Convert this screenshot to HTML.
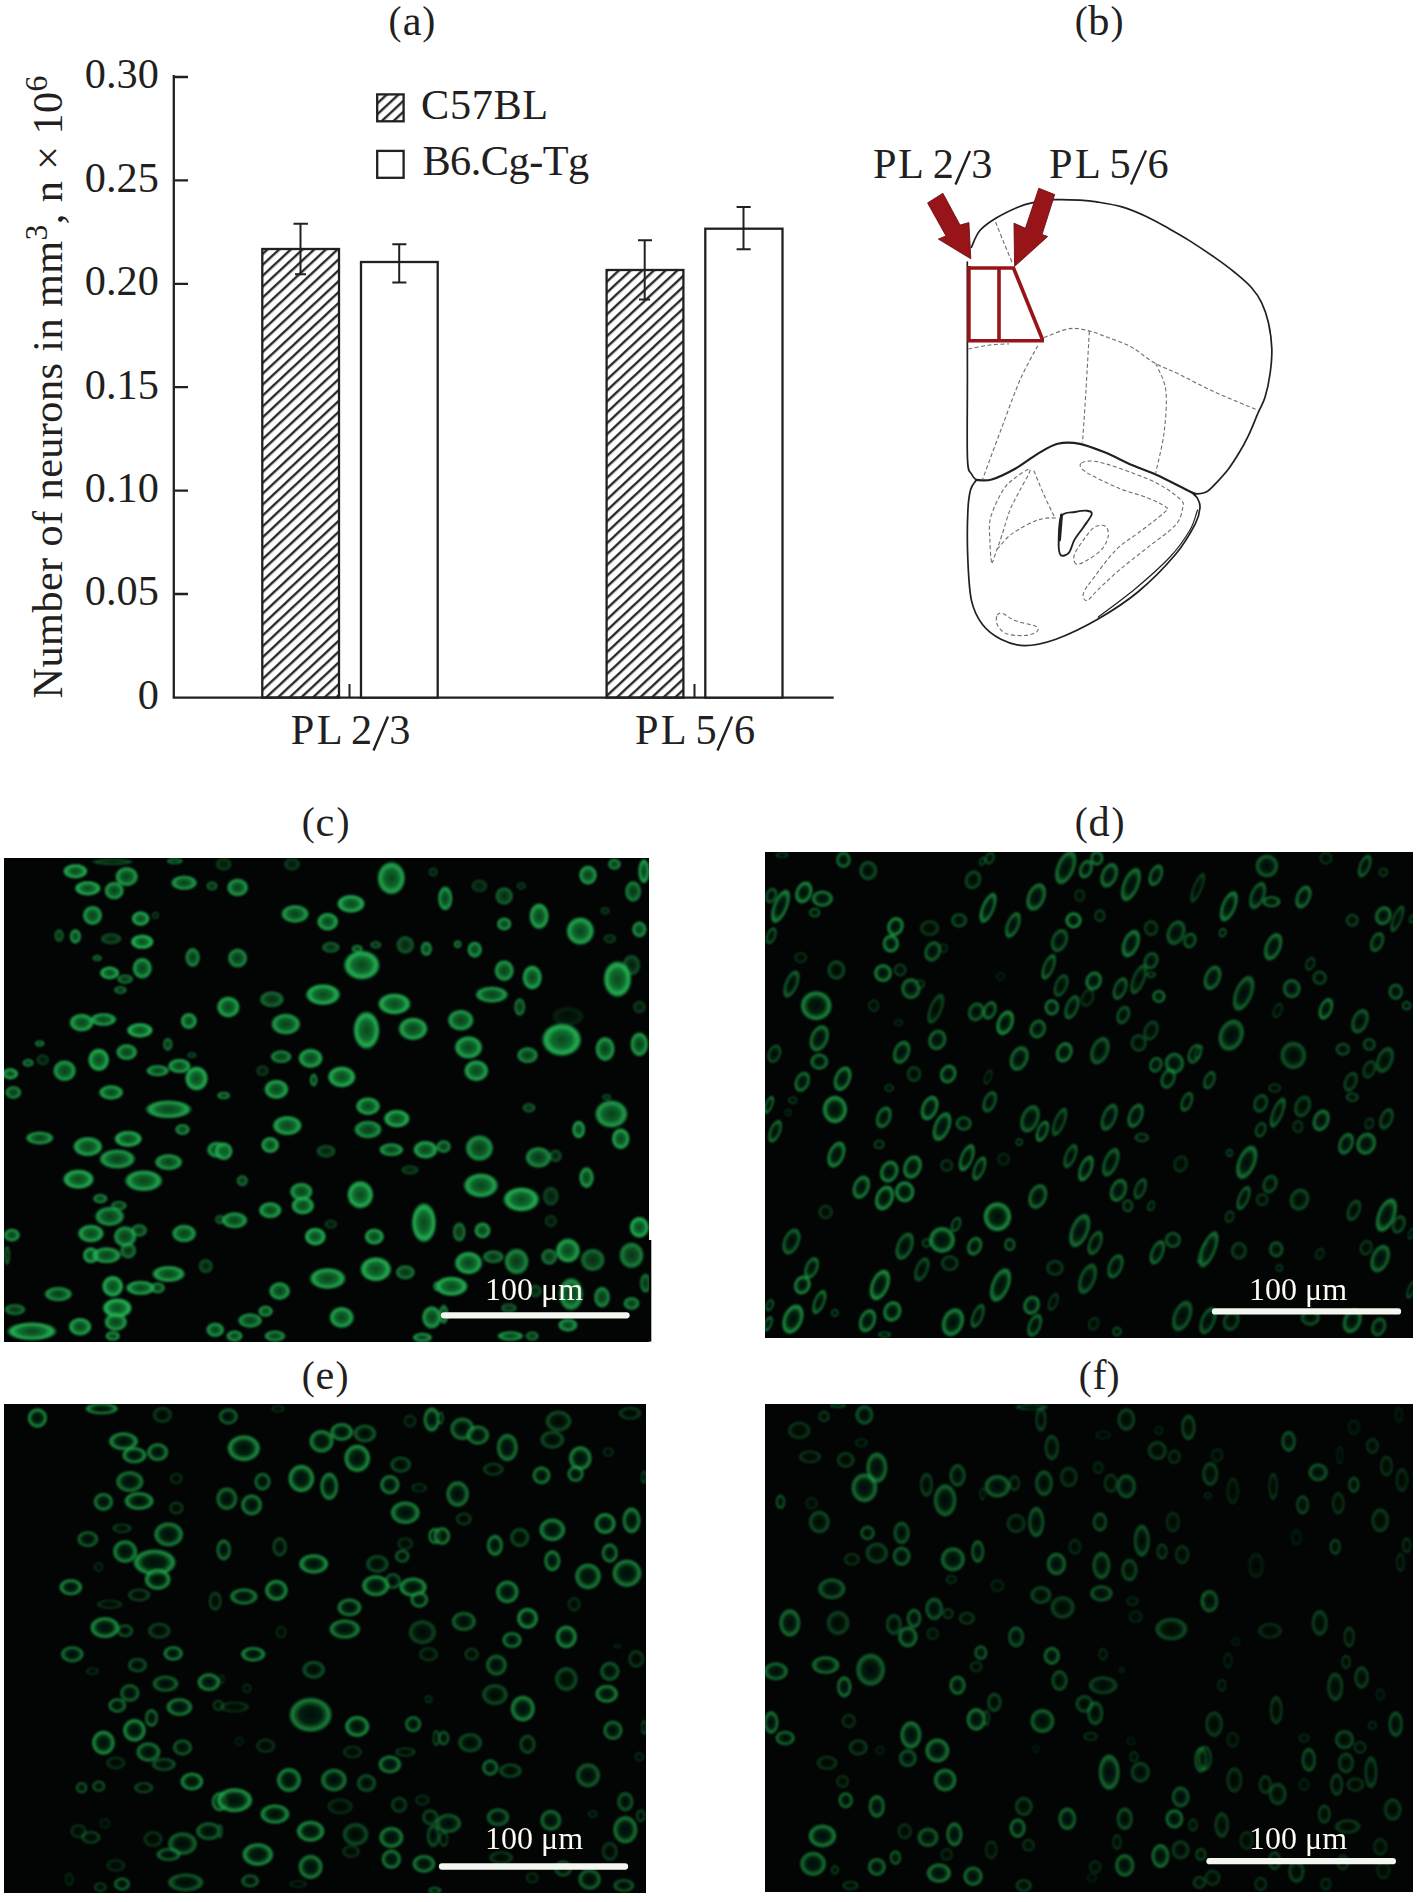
<!DOCTYPE html>
<html><head><meta charset="utf-8">
<style>
html,body{margin:0;padding:0;background:#fff;}
body{width:1417px;height:1902px;position:relative;overflow:hidden;font-family:"Liberation Serif",serif;}
svg{position:absolute;left:0;top:0;}
.t{font-family:"Liberation Serif",serif;fill:#231f20;}
</style></head><body>
<svg width="1417" height="1902" viewBox="0 0 1417 1902">
<defs>
<pattern id="hatch" patternUnits="userSpaceOnUse" width="20" height="7.97" patternTransform="rotate(-43)">
<path d="M-1,6.22 H21" stroke="#231f20" stroke-width="2.3"/>
</pattern>
<radialGradient id="cg" cx="50%" cy="50%" r="50%">
<stop offset="0" stop-color="#0b4a1e"/>
<stop offset="0.5" stop-color="#137a35"/>
<stop offset="0.78" stop-color="#2bc85e"/>
<stop offset="0.9" stop-color="#1c9a48" stop-opacity="0.6"/>
<stop offset="1" stop-color="#157a38" stop-opacity="0"/>
</radialGradient>
<radialGradient id="cg2" cx="50%" cy="50%" r="50%">
<stop offset="0" stop-color="#03110a"/>
<stop offset="0.5" stop-color="#072e12"/>
<stop offset="0.7" stop-color="#168038"/>
<stop offset="0.82" stop-color="#2bc65c"/>
<stop offset="0.93" stop-color="#178a3c" stop-opacity="0.5"/>
<stop offset="1" stop-color="#157a38" stop-opacity="0"/>
</radialGradient>
<filter id="soft" x="-2%" y="-2%" width="104%" height="104%"><feGaussianBlur stdDeviation="1.1"/></filter>
</defs>
<g id="chart" stroke="#231f20" fill="none" stroke-width="2.3">
<path d="M173.8,75 V698.8 M172.6,697.6 H833.7"/>
<path d="M175,77 H188 M175,180.4 H188 M175,283.8 H188 M175,387.2 H188 M175,490.6 H188 M175,594 H188"/>
<path d="M349.5,684 V697 M694.5,684 V697" stroke-width="2"/>
<rect x="262.3" y="249" width="76.7" height="448.6" fill="url(#hatch)"/>
<rect x="361" y="262" width="76.7" height="435.6" fill="#fff"/>
<rect x="606.6" y="270" width="76.8" height="427.6" fill="url(#hatch)"/>
<rect x="705.3" y="228.7" width="77.2" height="468.9" fill="#fff"/>
<path d="M300.5,223.7 V274.2 M293.5,223.7 H307.9 M295,274.2 H306" stroke-width="2"/>
<path d="M399.2,244.2 V282.4 M392.3,244.2 H406.4 M392.3,282.4 H406.4" stroke-width="2"/>
<path d="M644.7,240.2 V299.4 M638,240.2 H652 M639,299.4 H650" stroke-width="2"/>
<path d="M743.5,207 V249.3 M736.6,207 H750.7 M736.6,249.3 H750.7" stroke-width="2"/>
<rect x="377.2" y="94.4" width="26.4" height="26.9" fill="url(#hatch)"/>
<rect x="377.2" y="150.9" width="26.4" height="26.9" fill="#fff"/>
<path d="M373.5,750.5 L388,716.5 M717.5,750.5 L732,716.5 M955.5,184.5 L970,151 M1131,184.5 L1146,150.5" stroke-width="2.4"/>
</g>
<g class="t" font-size="42.3">
<text x="158.8" y="88" text-anchor="end">0.30</text>
<text x="158.8" y="191.6" text-anchor="end">0.25</text>
<text x="158.8" y="294.9" text-anchor="end">0.20</text>
<text x="158.8" y="398.8" text-anchor="end">0.15</text>
<text x="158.8" y="502" text-anchor="end">0.10</text>
<text x="158.8" y="605.2" text-anchor="end">0.05</text>
<text x="158.8" y="709.2" text-anchor="end">0</text>
<text x="421.1" y="118.7" letter-spacing="0.6">C57BL</text>
<text x="422.4" y="175" letter-spacing="-0.5">B6.Cg-Tg</text>
<text x="290.8" y="743.7">P</text><text x="316.8" y="743.7">L</text><text x="351" y="743.7">2</text><text x="389.2" y="743.7">3</text>
<text x="634.9" y="743.7">P</text><text x="660.8" y="743.7">L</text><text x="695.6" y="743.7">5</text><text x="733.9" y="743.7">6</text>
<text x="872.9" y="178">P</text><text x="897.9" y="178">L</text><text x="932.8" y="178">2</text><text x="971.2" y="178">3</text>
<text x="1048.9" y="178">P</text><text x="1074.9" y="178">L</text><text x="1109.6" y="178">5</text><text x="1147.4" y="178">6</text>
<g font-size="39.1">
<text x="388.5" y="34">(</text><text x="422.3" y="34">)</text>
<text x="1074.8" y="34">(</text><text x="1110.6" y="34">)</text>
<text x="301.7" y="835">(</text><text x="336.6" y="835">)</text>
<text x="1074.8" y="835">(</text><text x="1111.4" y="835">)</text>
<text x="301.7" y="1388.5">(</text><text x="335.5" y="1388.5">)</text>
<text x="1078.7" y="1388.5">(</text><text x="1106.6" y="1388.5">)</text>
</g>
<text x="402.7" y="34.9">a</text>
<text x="1088.2" y="34.9">b</text>
<text x="315.5" y="835.5">c</text>
<text x="1088.4" y="835.5">d</text>
<text x="315.4" y="1388.7">e</text>
<text x="1092.6" y="1388.7">f</text>
<text id="ylab" transform="translate(62,698.4) rotate(-90)" letter-spacing="0.4">Number of neurons in mm<tspan dy="-15" font-size="31.7">3</tspan><tspan dy="15">, n × 10</tspan><tspan dy="-15" font-size="31.7">6</tspan></text>
</g>
<g fill="none" stroke="#231f20" stroke-linejoin="round" stroke-linecap="round">
<path d="M971.4,247.3 C972.8,244.6 975.6,235.7 979.7,230.8 C983.8,225.9 989.6,222.1 996.2,218.1 C1002.8,214.1 1013.2,209.2 1019.1,206.7 C1025.0,204.2 1025.9,204.1 1031.8,202.9 C1037.7,201.7 1046.7,200.1 1054.7,199.7 C1062.7,199.2 1073.0,199.8 1080.0,200.2 C1087.0,200.6 1089.8,200.8 1096.8,201.9 C1103.8,203.0 1113.6,204.4 1122.0,206.9 C1130.4,209.4 1139.4,213.3 1147.3,217.0 C1155.2,220.7 1162.2,224.9 1169.2,228.8 C1176.2,232.7 1181.8,235.8 1189.4,240.6 C1197.0,245.4 1207.0,252.1 1214.6,257.4 C1222.2,262.7 1228.6,267.4 1234.8,272.5 C1241.0,277.6 1247.1,282.6 1251.6,287.7 C1256.1,292.8 1258.9,296.9 1261.7,302.8 C1264.5,308.7 1266.8,315.4 1268.5,323.0 C1270.2,330.6 1271.5,339.9 1271.8,348.3 C1272.1,356.7 1271.2,365.4 1270.1,373.5 C1269.0,381.6 1267.0,390.7 1265.1,397.1 C1263.1,403.6 1261.2,405.8 1258.4,412.2 C1255.6,418.6 1251.7,428.8 1248.3,435.8 C1244.9,442.8 1241.6,448.7 1238.2,454.3 C1234.8,459.9 1232.0,464.3 1228.1,469.4 C1224.2,474.4 1218.2,480.8 1214.6,484.6 C1210.9,488.4 1209.0,490.6 1206.2,492.1 C1203.4,493.6 1200.3,493.8 1197.8,493.8 C1195.3,493.8 1192.1,492.4 1191.0,492.1" stroke-width="1.7"/>
<path d="M967.3,262.0 C967.3,281.7 967.4,347.1 967.4,380.0 C967.4,412.9 966.8,443.7 967.5,459.4 C968.2,475.1 970.1,470.6 971.5,474.0 C972.9,477.4 975.3,478.9 976.1,479.9" stroke-width="1.7"/>
<path d="M976.1,479.9 C978.7,479.8 985.1,481.4 991.7,479.5 C998.3,477.6 1008.0,472.8 1015.6,468.5 C1023.2,464.2 1030.6,458.0 1037.6,453.9 C1044.6,449.8 1050.8,445.5 1057.8,443.8 C1064.8,442.1 1071.9,442.3 1079.8,443.8 C1087.7,445.3 1096.8,449.2 1105.2,452.6 C1113.7,456.0 1122.1,460.8 1130.5,464.4 C1138.9,468.0 1146.7,470.4 1155.7,474.5 C1164.7,478.6 1177.8,485.4 1184.4,488.7 C1191.0,492.0 1193.6,493.3 1195.4,494.2" stroke-width="2.2"/>
<path d="M976.0,480.5 C975.1,482.1 971.9,484.6 970.5,490.0 C969.1,495.4 968.2,501.2 967.8,512.6 C967.3,524.0 967.2,543.7 967.8,558.4 C968.4,573.1 969.0,589.6 971.5,600.6 C974.0,611.6 977.6,618.1 982.5,624.5 C987.4,630.9 993.9,635.7 1000.9,639.2 C1007.9,642.7 1015.5,645.6 1024.7,645.6 C1033.9,645.6 1043.7,643.6 1055.9,639.2 C1068.1,634.8 1084.3,627.0 1098.1,619.0 C1111.9,611.0 1125.7,602.2 1138.5,591.5 C1151.3,580.8 1165.7,566.1 1175.2,554.8 C1184.7,543.5 1191.3,531.5 1195.4,523.6 C1199.5,515.7 1199.7,511.4 1200.0,507.1 C1200.3,502.8 1198.3,500.0 1197.2,497.9 C1196.1,495.8 1194.1,494.8 1193.5,494.2" stroke-width="1.7"/>
<path d="M1197.5,510.0 C1196.2,513.3 1194.6,522.2 1190.0,530.0 C1185.4,537.8 1179.2,547.2 1170.0,557.0 C1160.8,566.8 1147.0,579.0 1135.0,589.0 C1123.0,599.0 1104.2,612.5 1098.1,617.2" stroke-width="1.2"/>
<path d="M1061.4,516.2 C1064.1,511.5 1070.7,512.9 1075.0,512.0 C1079.3,511.1 1084.3,510.3 1087.1,510.7 C1089.9,511.1 1092.3,511.6 1091.7,514.4 C1091.1,517.1 1086.3,522.9 1083.4,527.2 C1080.5,531.5 1076.7,535.8 1074.3,540.1 C1071.9,544.4 1071.1,550.5 1068.8,552.9 C1066.5,555.3 1062.2,556.9 1060.5,554.8 C1058.8,552.7 1058.5,546.5 1058.7,540.1 C1058.9,533.7 1058.7,520.9 1061.4,516.2Z" stroke-width="1.9"/>
<path d="M1061.5,515 L1059.5,540" stroke-width="3"/>
</g>
<g fill="none" stroke="#6d6e70" stroke-width="1.1" stroke-dasharray="4 2.5">
<path d="M995.6,222.0 C997.0,225.5 1001.1,236.0 1004.0,243.0 C1006.9,250.0 1011.2,260.3 1012.7,263.8"/>
<path d="M1043.9,337.5 C1048.2,336.0 1062.2,329.7 1069.9,328.6 C1077.6,327.6 1084.3,329.9 1090.2,331.2 C1096.1,332.5 1098.5,333.9 1105.2,336.5 C1111.9,339.1 1122.4,342.2 1130.5,346.6 C1138.6,351.0 1145.6,357.8 1154.0,362.6 C1162.4,367.4 1170.9,370.3 1181.0,375.2 C1191.1,380.1 1201.7,386.1 1214.6,392.0 C1227.5,397.9 1251.1,407.4 1258.4,410.5"/>
<path d="M1089.3,331.4 C1088.8,341.2 1087.1,371.5 1086.0,390.0 C1084.9,408.5 1083.1,433.8 1082.5,442.5"/>
<path d="M1155.7,363.4 C1157.4,367.9 1164.4,378.8 1165.8,390.3 C1167.2,401.8 1165.8,418.6 1164.1,432.4 C1162.4,446.1 1157.1,466.1 1155.7,472.8"/>
<path d="M968.3,349.0 C971.9,348.3 983.2,345.9 990.0,345.0 C996.8,344.1 1005.8,344.1 1008.9,343.9"/>
<path d="M1037.8,345.7 C1034.8,351.4 1026.2,365.9 1020.0,380.0 C1013.9,394.1 1007.1,413.4 1000.9,430.0 C994.6,446.6 985.6,471.2 982.5,479.5"/>
<path d="M1033.9,470.8 C1035.6,474.8 1040.6,487.4 1044.0,495.0 C1047.4,502.6 1052.4,512.7 1054.1,516.2"/>
<path d="M997.2,549.3 C999.0,547.2 1004.3,540.4 1008.0,537.0 C1011.7,533.6 1014.7,531.8 1019.2,529.1 C1023.7,526.4 1030.4,522.8 1035.0,521.0 C1039.6,519.2 1042.9,518.6 1046.7,518.1 C1050.5,517.6 1056.0,518.1 1057.8,518.1"/>
<path d="M991.7,562.1 C990.7,560.1 990.1,547.3 989.9,540.0 C989.7,532.7 988.4,526.3 990.5,518.1 C992.6,509.9 998.6,497.3 1002.7,490.6 C1006.8,483.9 1010.4,481.5 1015.0,478.0 C1019.6,474.5 1029.4,467.4 1030.2,469.4 C1031.0,471.4 1023.4,483.2 1020.0,490.0 C1016.6,496.8 1013.0,502.5 1010.0,510.0 C1007.0,517.5 1004.3,528.0 1002.0,535.0 C999.7,542.0 997.7,547.5 996.0,552.0 C994.3,556.5 992.7,564.1 991.7,562.1Z"/>
<path d="M1076.1,564.0 C1074.0,563.1 1073.1,559.0 1074.3,555.0 C1075.5,551.0 1080.1,544.7 1083.4,540.1 C1086.8,535.5 1090.7,529.5 1094.4,527.2 C1098.1,524.9 1103.2,524.8 1105.5,526.3 C1107.8,527.8 1108.8,532.6 1108.2,536.4 C1107.6,540.2 1105.3,545.3 1101.8,549.3 C1098.3,553.3 1091.4,557.8 1087.1,560.3 C1082.8,562.8 1078.2,564.9 1076.1,564.0Z"/>
<path d="M1081.6,463.0 C1083.7,461.8 1088.0,460.3 1094.4,461.2 C1100.8,462.1 1109.7,464.8 1120.1,468.5 C1130.5,472.2 1146.7,478.0 1156.8,483.2 C1166.9,488.4 1176.4,495.4 1180.7,499.7 C1185.0,504.0 1183.4,504.6 1182.5,508.9 C1181.6,513.2 1181.0,519.0 1175.2,525.4 C1169.4,531.8 1156.9,540.1 1147.7,547.4 C1138.5,554.7 1128.4,562.4 1120.1,569.4 C1111.8,576.4 1103.6,584.4 1098.1,589.6 C1092.6,594.8 1089.5,600.0 1087.1,600.6 C1084.6,601.2 1082.2,597.3 1083.4,593.3 C1084.6,589.3 1088.9,584.1 1094.4,576.8 C1099.9,569.5 1109.2,556.6 1116.5,549.3 C1123.8,542.0 1130.5,538.9 1138.5,532.8 C1146.5,526.7 1159.6,516.9 1164.2,512.6 C1168.8,508.3 1168.8,509.6 1166.0,507.1 C1163.2,504.7 1155.4,501.0 1147.7,497.9 C1140.0,494.8 1129.3,492.4 1120.1,488.7 C1110.9,485.0 1099.0,479.3 1092.6,475.9 C1086.2,472.5 1083.4,470.6 1081.6,468.5 C1079.8,466.4 1079.5,464.2 1081.6,463.0Z"/>
<path d="M997.2,615.3 C998.1,613.5 999.6,612.6 1002.7,613.5 C1005.8,614.4 1010.1,618.7 1015.6,620.8 C1021.1,622.9 1032.2,624.5 1035.7,626.3 C1039.2,628.1 1038.5,630.3 1036.7,631.8 C1034.9,633.3 1029.8,635.2 1024.7,635.5 C1019.7,635.8 1011.0,635.5 1006.4,633.7 C1001.8,631.9 998.7,627.6 997.2,624.5 C995.7,621.4 996.3,617.1 997.2,615.3Z"/>
</g>
<g fill="#971519" stroke="#6e0e12" stroke-width="0.9" stroke-linejoin="round">
<path d="M927.6,202.9 L942.9,193.3 L960,225.1 L968.9,222.6 L970.8,258.8 L938.4,239.1 L946,235.9 Z"/>
<path d="M1038.8,188.3 L1054.7,194.6 L1042,234.6 L1047.7,236.5 L1014.6,266.4 L1014,223.2 L1025.4,228.3 Z"/>
</g>
<g fill="none" stroke="#971519" stroke-width="3.6" stroke-linejoin="miter">
<path d="M968.9,266 V341 M967.4,268 H1013.5 L1042.5,339.5 M967.4,340.8 H1044 M999,268 V340.8"/>
</g>
<rect x="4" y="858" width="645" height="484" fill="#030404"/>
<rect x="648" y="1240" width="3.3" height="101.6" fill="#030404"/>
<rect x="765" y="852" width="648" height="486" fill="#030404"/>
<rect x="4" y="1404" width="642" height="489" fill="#030404"/>
<rect x="765" y="1404" width="648" height="488" fill="#030404"/>
<clipPath id="clipc"><rect x="4" y="858" width="645" height="484"/></clipPath>
<g clip-path="url(#clipc)"><g filter="url(#soft)">
<ellipse cx="75.4" cy="871.2" rx="13.0" ry="7.8" fill="url(#cg)" opacity="0.90"/>
<ellipse cx="87.8" cy="888.3" rx="13.9" ry="7.8" fill="url(#cg)" opacity="0.90"/>
<ellipse cx="126.7" cy="876.6" rx="12.2" ry="10.4" fill="url(#cg)" opacity="0.80"/>
<ellipse cx="114.2" cy="890.6" rx="10.4" ry="9.6" fill="url(#cg)" opacity="0.80"/>
<ellipse cx="184.1" cy="882.8" rx="13.9" ry="7.8" fill="url(#cg)" opacity="0.80"/>
<ellipse cx="212.0" cy="885.9" rx="6.1" ry="5.2" fill="url(#cg)" opacity="0.50"/>
<ellipse cx="174.8" cy="861.1" rx="8.7" ry="3.5" fill="url(#cg)" opacity="0.60"/>
<ellipse cx="112.7" cy="861.9" rx="21.7" ry="3.5" fill="url(#cg)" opacity="0.40"/>
<ellipse cx="92.5" cy="915.4" rx="10.4" ry="10.4" fill="url(#cg)" opacity="0.80"/>
<ellipse cx="140.6" cy="918.6" rx="9.6" ry="7.8" fill="url(#cg)" opacity="0.90"/>
<ellipse cx="155.4" cy="915.4" rx="4.3" ry="4.3" fill="url(#cg)" opacity="0.30"/>
<ellipse cx="59.1" cy="935.6" rx="5.2" ry="7.0" fill="url(#cg)" opacity="0.50"/>
<ellipse cx="75.4" cy="936.4" rx="6.1" ry="7.8" fill="url(#cg)" opacity="0.80"/>
<ellipse cx="111.1" cy="938.7" rx="11.3" ry="6.1" fill="url(#cg)" opacity="0.40"/>
<ellipse cx="142.2" cy="941.8" rx="12.2" ry="7.8" fill="url(#cg)" opacity="0.95"/>
<ellipse cx="192.6" cy="957.4" rx="7.8" ry="10.4" fill="url(#cg)" opacity="0.70"/>
<ellipse cx="97.2" cy="958.1" rx="5.2" ry="3.5" fill="url(#cg)" opacity="0.60"/>
<ellipse cx="109.6" cy="972.9" rx="10.4" ry="7.0" fill="url(#cg)" opacity="0.90"/>
<ellipse cx="125.1" cy="979.1" rx="8.7" ry="5.2" fill="url(#cg)" opacity="0.60"/>
<ellipse cx="142.2" cy="968.2" rx="10.4" ry="11.3" fill="url(#cg)" opacity="0.80"/>
<ellipse cx="120.4" cy="990.0" rx="7.0" ry="4.3" fill="url(#cg)" opacity="0.60"/>
<ellipse cx="81.6" cy="1022.6" rx="13.0" ry="9.6" fill="url(#cg)" opacity="0.85"/>
<ellipse cx="103.4" cy="1019.5" rx="13.9" ry="7.0" fill="url(#cg)" opacity="0.85"/>
<ellipse cx="139.9" cy="1030.3" rx="13.9" ry="7.8" fill="url(#cg)" opacity="0.95"/>
<ellipse cx="188.8" cy="1021.0" rx="8.7" ry="8.7" fill="url(#cg)" opacity="0.85"/>
<ellipse cx="167.8" cy="1044.3" rx="5.2" ry="7.0" fill="url(#cg)" opacity="0.60"/>
<ellipse cx="39.7" cy="1043.5" rx="5.2" ry="3.5" fill="url(#cg)" opacity="0.70"/>
<ellipse cx="28.1" cy="1062.9" rx="6.1" ry="4.3" fill="url(#cg)" opacity="0.70"/>
<ellipse cx="42.8" cy="1059.8" rx="7.0" ry="6.1" fill="url(#cg)" opacity="0.30"/>
<ellipse cx="64.6" cy="1070.7" rx="12.2" ry="11.3" fill="url(#cg)" opacity="0.80"/>
<ellipse cx="98.7" cy="1059.8" rx="11.3" ry="12.2" fill="url(#cg)" opacity="0.90"/>
<ellipse cx="126.7" cy="1052.1" rx="11.3" ry="8.7" fill="url(#cg)" opacity="0.80"/>
<ellipse cx="10.2" cy="1073.8" rx="8.7" ry="6.1" fill="url(#cg)" opacity="0.90"/>
<ellipse cx="13.3" cy="1092.4" rx="8.7" ry="7.0" fill="url(#cg)" opacity="0.70"/>
<ellipse cx="111.1" cy="1092.4" rx="13.0" ry="7.8" fill="url(#cg)" opacity="0.85"/>
<ellipse cx="157.7" cy="1070.7" rx="12.2" ry="6.1" fill="url(#cg)" opacity="0.80"/>
<ellipse cx="179.4" cy="1066.0" rx="12.2" ry="7.8" fill="url(#cg)" opacity="0.85"/>
<ellipse cx="196.5" cy="1078.5" rx="12.2" ry="13.0" fill="url(#cg)" opacity="0.90"/>
<ellipse cx="191.9" cy="1055.2" rx="5.2" ry="3.5" fill="url(#cg)" opacity="0.40"/>
<ellipse cx="237.6" cy="887.5" rx="11.3" ry="9.6" fill="url(#cg)" opacity="0.80"/>
<ellipse cx="223.7" cy="864.2" rx="8.7" ry="7.0" fill="url(#cg)" opacity="0.30"/>
<ellipse cx="292.0" cy="864.2" rx="8.7" ry="7.0" fill="url(#cg)" opacity="0.30"/>
<ellipse cx="391.3" cy="878.2" rx="14.8" ry="17.4" fill="url(#cg)" opacity="0.85"/>
<ellipse cx="433.3" cy="872.0" rx="5.2" ry="5.2" fill="url(#cg)" opacity="0.30"/>
<ellipse cx="351.0" cy="903.8" rx="14.8" ry="9.6" fill="url(#cg)" opacity="0.90"/>
<ellipse cx="295.1" cy="913.9" rx="14.8" ry="9.6" fill="url(#cg)" opacity="0.80"/>
<ellipse cx="327.7" cy="921.7" rx="11.3" ry="9.6" fill="url(#cg)" opacity="0.85"/>
<ellipse cx="237.6" cy="958.1" rx="10.4" ry="10.4" fill="url(#cg)" opacity="0.70"/>
<ellipse cx="330.8" cy="947.3" rx="9.6" ry="6.1" fill="url(#cg)" opacity="0.50"/>
<ellipse cx="357.2" cy="948.8" rx="6.1" ry="4.3" fill="url(#cg)" opacity="0.70"/>
<ellipse cx="375.8" cy="944.9" rx="6.1" ry="4.3" fill="url(#cg)" opacity="0.50"/>
<ellipse cx="405.3" cy="944.9" rx="9.6" ry="9.6" fill="url(#cg)" opacity="0.45"/>
<ellipse cx="426.3" cy="948.8" rx="6.1" ry="7.8" fill="url(#cg)" opacity="0.75"/>
<ellipse cx="361.8" cy="965.1" rx="19.1" ry="15.6" fill="url(#cg)" opacity="0.90"/>
<ellipse cx="323.0" cy="994.6" rx="18.3" ry="11.3" fill="url(#cg)" opacity="0.90"/>
<ellipse cx="271.8" cy="999.3" rx="13.0" ry="8.7" fill="url(#cg)" opacity="0.55"/>
<ellipse cx="228.3" cy="1007.0" rx="12.2" ry="11.3" fill="url(#cg)" opacity="0.85"/>
<ellipse cx="394.4" cy="1003.9" rx="17.4" ry="11.3" fill="url(#cg)" opacity="0.90"/>
<ellipse cx="285.8" cy="1024.1" rx="15.6" ry="11.3" fill="url(#cg)" opacity="0.80"/>
<ellipse cx="366.5" cy="1030.3" rx="13.9" ry="20.0" fill="url(#cg)" opacity="0.90"/>
<ellipse cx="413.1" cy="1028.8" rx="15.6" ry="12.2" fill="url(#cg)" opacity="0.85"/>
<ellipse cx="281.1" cy="1056.7" rx="11.3" ry="7.0" fill="url(#cg)" opacity="0.70"/>
<ellipse cx="310.6" cy="1058.3" rx="13.0" ry="10.4" fill="url(#cg)" opacity="0.85"/>
<ellipse cx="341.7" cy="1076.9" rx="14.8" ry="11.3" fill="url(#cg)" opacity="0.90"/>
<ellipse cx="313.7" cy="1080.0" rx="4.3" ry="7.0" fill="url(#cg)" opacity="0.70"/>
<ellipse cx="276.4" cy="1089.3" rx="13.0" ry="10.4" fill="url(#cg)" opacity="0.85"/>
<ellipse cx="262.5" cy="1070.7" rx="7.0" ry="6.1" fill="url(#cg)" opacity="0.30"/>
<ellipse cx="223.7" cy="1095.5" rx="7.0" ry="4.3" fill="url(#cg)" opacity="0.70"/>
<ellipse cx="445.2" cy="898.4" rx="7.8" ry="13.0" fill="url(#cg)" opacity="0.80"/>
<ellipse cx="479.4" cy="885.9" rx="8.7" ry="7.0" fill="url(#cg)" opacity="0.30"/>
<ellipse cx="504.2" cy="896.0" rx="9.6" ry="9.6" fill="url(#cg)" opacity="0.50"/>
<ellipse cx="521.3" cy="885.9" rx="5.2" ry="4.3" fill="url(#cg)" opacity="0.30"/>
<ellipse cx="539.1" cy="916.2" rx="10.4" ry="13.9" fill="url(#cg)" opacity="0.85"/>
<ellipse cx="588.0" cy="875.1" rx="9.6" ry="10.4" fill="url(#cg)" opacity="0.80"/>
<ellipse cx="614.4" cy="864.2" rx="7.0" ry="6.1" fill="url(#cg)" opacity="0.70"/>
<ellipse cx="643.9" cy="871.2" rx="6.1" ry="13.0" fill="url(#cg)" opacity="0.85"/>
<ellipse cx="633.1" cy="891.4" rx="8.7" ry="11.3" fill="url(#cg)" opacity="0.65"/>
<ellipse cx="605.1" cy="910.8" rx="5.2" ry="4.3" fill="url(#cg)" opacity="0.30"/>
<ellipse cx="580.3" cy="931.0" rx="14.8" ry="14.8" fill="url(#cg)" opacity="0.85"/>
<ellipse cx="639.3" cy="929.4" rx="7.8" ry="8.7" fill="url(#cg)" opacity="0.75"/>
<ellipse cx="609.8" cy="938.7" rx="7.0" ry="5.2" fill="url(#cg)" opacity="0.30"/>
<ellipse cx="504.2" cy="924.0" rx="7.8" ry="7.0" fill="url(#cg)" opacity="0.80"/>
<ellipse cx="457.6" cy="944.2" rx="4.3" ry="4.3" fill="url(#cg)" opacity="0.70"/>
<ellipse cx="474.7" cy="949.6" rx="7.8" ry="8.7" fill="url(#cg)" opacity="0.80"/>
<ellipse cx="504.2" cy="970.6" rx="10.4" ry="11.3" fill="url(#cg)" opacity="0.80"/>
<ellipse cx="532.2" cy="977.5" rx="10.4" ry="13.0" fill="url(#cg)" opacity="0.85"/>
<ellipse cx="631.5" cy="965.1" rx="9.6" ry="11.3" fill="url(#cg)" opacity="0.40"/>
<ellipse cx="617.5" cy="979.1" rx="14.8" ry="19.1" fill="url(#cg)" opacity="0.90"/>
<ellipse cx="491.8" cy="994.6" rx="17.4" ry="8.7" fill="url(#cg)" opacity="0.80"/>
<ellipse cx="519.7" cy="1007.0" rx="6.1" ry="9.6" fill="url(#cg)" opacity="0.60"/>
<ellipse cx="460.7" cy="1020.2" rx="13.9" ry="11.3" fill="url(#cg)" opacity="0.80"/>
<ellipse cx="468.5" cy="1047.4" rx="14.8" ry="12.2" fill="url(#cg)" opacity="0.85"/>
<ellipse cx="476.3" cy="1070.7" rx="13.0" ry="11.3" fill="url(#cg)" opacity="0.85"/>
<ellipse cx="527.5" cy="1055.2" rx="11.3" ry="8.7" fill="url(#cg)" opacity="0.70"/>
<ellipse cx="561.7" cy="1039.7" rx="20.9" ry="17.4" fill="url(#cg)" opacity="0.90"/>
<ellipse cx="605.1" cy="1049.0" rx="10.4" ry="13.0" fill="url(#cg)" opacity="0.80"/>
<ellipse cx="639.3" cy="1044.3" rx="9.6" ry="13.0" fill="url(#cg)" opacity="0.80"/>
<ellipse cx="567.9" cy="1016.4" rx="17.4" ry="10.4" fill="url(#cg)" opacity="0.15"/>
<ellipse cx="639.3" cy="1007.0" rx="7.0" ry="7.0" fill="url(#cg)" opacity="0.30"/>
<ellipse cx="606.7" cy="1097.1" rx="5.2" ry="3.5" fill="url(#cg)" opacity="0.40"/>
<ellipse cx="168.6" cy="1109.3" rx="24.3" ry="9.6" fill="url(#cg)" opacity="0.85"/>
<ellipse cx="182.5" cy="1129.5" rx="7.8" ry="6.1" fill="url(#cg)" opacity="0.75"/>
<ellipse cx="39.7" cy="1138.0" rx="14.8" ry="7.0" fill="url(#cg)" opacity="0.80"/>
<ellipse cx="87.8" cy="1146.6" rx="15.6" ry="10.4" fill="url(#cg)" opacity="0.85"/>
<ellipse cx="128.2" cy="1138.8" rx="14.8" ry="8.7" fill="url(#cg)" opacity="0.90"/>
<ellipse cx="117.3" cy="1159.0" rx="19.1" ry="10.4" fill="url(#cg)" opacity="0.80"/>
<ellipse cx="168.6" cy="1162.1" rx="14.8" ry="8.7" fill="url(#cg)" opacity="0.80"/>
<ellipse cx="216.7" cy="1149.7" rx="10.4" ry="8.7" fill="url(#cg)" opacity="0.80"/>
<ellipse cx="78.5" cy="1179.2" rx="16.5" ry="10.4" fill="url(#cg)" opacity="0.90"/>
<ellipse cx="143.7" cy="1180.7" rx="20.0" ry="11.3" fill="url(#cg)" opacity="0.85"/>
<ellipse cx="100.3" cy="1198.6" rx="7.8" ry="5.2" fill="url(#cg)" opacity="0.70"/>
<ellipse cx="118.9" cy="1205.6" rx="8.7" ry="5.2" fill="url(#cg)" opacity="0.60"/>
<ellipse cx="109.6" cy="1216.4" rx="15.6" ry="10.4" fill="url(#cg)" opacity="0.75"/>
<ellipse cx="90.9" cy="1233.5" rx="13.9" ry="9.6" fill="url(#cg)" opacity="0.85"/>
<ellipse cx="125.1" cy="1236.6" rx="12.2" ry="11.3" fill="url(#cg)" opacity="0.75"/>
<ellipse cx="139.1" cy="1230.4" rx="8.7" ry="7.0" fill="url(#cg)" opacity="0.60"/>
<ellipse cx="184.1" cy="1233.5" rx="13.0" ry="9.6" fill="url(#cg)" opacity="0.80"/>
<ellipse cx="11.8" cy="1235.1" rx="8.7" ry="7.0" fill="url(#cg)" opacity="0.80"/>
<ellipse cx="219.8" cy="1219.5" rx="5.2" ry="5.2" fill="url(#cg)" opacity="0.50"/>
<ellipse cx="90.9" cy="1255.3" rx="8.7" ry="8.7" fill="url(#cg)" opacity="0.85"/>
<ellipse cx="106.5" cy="1255.3" rx="15.6" ry="8.7" fill="url(#cg)" opacity="0.80"/>
<ellipse cx="128.2" cy="1250.6" rx="8.7" ry="8.7" fill="url(#cg)" opacity="0.60"/>
<ellipse cx="168.6" cy="1273.9" rx="17.4" ry="8.7" fill="url(#cg)" opacity="0.85"/>
<ellipse cx="205.8" cy="1266.1" rx="7.8" ry="7.8" fill="url(#cg)" opacity="0.40"/>
<ellipse cx="112.7" cy="1286.3" rx="11.3" ry="11.3" fill="url(#cg)" opacity="0.90"/>
<ellipse cx="140.6" cy="1287.9" rx="15.6" ry="7.8" fill="url(#cg)" opacity="0.85"/>
<ellipse cx="157.7" cy="1287.9" rx="7.8" ry="6.1" fill="url(#cg)" opacity="0.70"/>
<ellipse cx="58.3" cy="1294.1" rx="14.8" ry="7.8" fill="url(#cg)" opacity="0.75"/>
<ellipse cx="14.9" cy="1309.6" rx="11.3" ry="6.1" fill="url(#cg)" opacity="0.60"/>
<ellipse cx="117.3" cy="1308.0" rx="15.6" ry="10.4" fill="url(#cg)" opacity="0.95"/>
<ellipse cx="115.8" cy="1322.0" rx="12.2" ry="9.6" fill="url(#cg)" opacity="0.80"/>
<ellipse cx="80.1" cy="1326.7" rx="12.2" ry="9.6" fill="url(#cg)" opacity="0.85"/>
<ellipse cx="31.9" cy="1331.3" rx="26.1" ry="9.6" fill="url(#cg)" opacity="0.90"/>
<ellipse cx="112.7" cy="1336.0" rx="7.8" ry="5.2" fill="url(#cg)" opacity="0.80"/>
<ellipse cx="215.2" cy="1329.8" rx="9.6" ry="7.8" fill="url(#cg)" opacity="0.80"/>
<ellipse cx="7.1" cy="1255.3" rx="3.5" ry="10.4" fill="url(#cg)" opacity="0.50"/>
<ellipse cx="368.0" cy="1106.2" rx="13.0" ry="9.6" fill="url(#cg)" opacity="0.85"/>
<ellipse cx="287.3" cy="1125.6" rx="15.6" ry="10.4" fill="url(#cg)" opacity="0.85"/>
<ellipse cx="396.8" cy="1118.6" rx="13.9" ry="9.6" fill="url(#cg)" opacity="0.90"/>
<ellipse cx="368.0" cy="1129.5" rx="14.8" ry="9.6" fill="url(#cg)" opacity="0.75"/>
<ellipse cx="270.2" cy="1145.0" rx="9.6" ry="8.7" fill="url(#cg)" opacity="0.85"/>
<ellipse cx="223.7" cy="1151.2" rx="9.6" ry="9.6" fill="url(#cg)" opacity="0.85"/>
<ellipse cx="326.1" cy="1151.2" rx="10.4" ry="7.0" fill="url(#cg)" opacity="0.40"/>
<ellipse cx="391.3" cy="1149.7" rx="13.0" ry="7.0" fill="url(#cg)" opacity="0.80"/>
<ellipse cx="425.5" cy="1149.7" rx="13.0" ry="9.6" fill="url(#cg)" opacity="0.85"/>
<ellipse cx="410.0" cy="1169.9" rx="9.6" ry="5.2" fill="url(#cg)" opacity="0.35"/>
<ellipse cx="242.3" cy="1180.7" rx="6.1" ry="6.1" fill="url(#cg)" opacity="0.60"/>
<ellipse cx="301.3" cy="1191.6" rx="12.2" ry="9.6" fill="url(#cg)" opacity="0.80"/>
<ellipse cx="360.3" cy="1194.7" rx="13.9" ry="14.8" fill="url(#cg)" opacity="0.90"/>
<ellipse cx="270.2" cy="1210.2" rx="12.2" ry="8.7" fill="url(#cg)" opacity="0.85"/>
<ellipse cx="302.8" cy="1205.6" rx="12.2" ry="9.6" fill="url(#cg)" opacity="0.85"/>
<ellipse cx="234.5" cy="1220.3" rx="13.9" ry="8.7" fill="url(#cg)" opacity="0.80"/>
<ellipse cx="423.9" cy="1222.7" rx="13.0" ry="20.9" fill="url(#cg)" opacity="0.90"/>
<ellipse cx="330.8" cy="1224.2" rx="7.0" ry="5.2" fill="url(#cg)" opacity="0.30"/>
<ellipse cx="315.3" cy="1236.6" rx="11.3" ry="9.6" fill="url(#cg)" opacity="0.90"/>
<ellipse cx="374.3" cy="1236.6" rx="10.4" ry="8.7" fill="url(#cg)" opacity="0.85"/>
<ellipse cx="375.8" cy="1269.2" rx="16.5" ry="13.0" fill="url(#cg)" opacity="0.90"/>
<ellipse cx="405.3" cy="1272.3" rx="10.4" ry="7.8" fill="url(#cg)" opacity="0.60"/>
<ellipse cx="327.7" cy="1278.5" rx="19.1" ry="11.3" fill="url(#cg)" opacity="0.85"/>
<ellipse cx="279.6" cy="1291.0" rx="11.3" ry="9.6" fill="url(#cg)" opacity="0.80"/>
<ellipse cx="436.4" cy="1286.3" rx="3.5" ry="5.2" fill="url(#cg)" opacity="0.70"/>
<ellipse cx="265.6" cy="1311.2" rx="7.8" ry="6.1" fill="url(#cg)" opacity="0.80"/>
<ellipse cx="250.1" cy="1320.5" rx="13.0" ry="7.8" fill="url(#cg)" opacity="0.75"/>
<ellipse cx="341.7" cy="1317.4" rx="13.0" ry="11.3" fill="url(#cg)" opacity="0.85"/>
<ellipse cx="431.7" cy="1317.4" rx="10.4" ry="12.2" fill="url(#cg)" opacity="0.80"/>
<ellipse cx="234.5" cy="1336.0" rx="8.7" ry="6.1" fill="url(#cg)" opacity="0.80"/>
<ellipse cx="274.9" cy="1336.0" rx="11.3" ry="6.1" fill="url(#cg)" opacity="0.75"/>
<ellipse cx="422.4" cy="1337.5" rx="10.4" ry="5.2" fill="url(#cg)" opacity="0.80"/>
<ellipse cx="529.0" cy="1107.8" rx="7.0" ry="5.2" fill="url(#cg)" opacity="0.50"/>
<ellipse cx="611.3" cy="1114.0" rx="17.4" ry="14.8" fill="url(#cg)" opacity="0.80"/>
<ellipse cx="578.7" cy="1129.5" rx="7.0" ry="9.6" fill="url(#cg)" opacity="0.85"/>
<ellipse cx="620.7" cy="1138.8" rx="9.6" ry="11.3" fill="url(#cg)" opacity="0.85"/>
<ellipse cx="443.7" cy="1146.6" rx="7.8" ry="7.0" fill="url(#cg)" opacity="0.70"/>
<ellipse cx="479.4" cy="1148.1" rx="14.8" ry="13.9" fill="url(#cg)" opacity="0.75"/>
<ellipse cx="538.4" cy="1157.4" rx="13.9" ry="11.3" fill="url(#cg)" opacity="0.70"/>
<ellipse cx="555.4" cy="1155.9" rx="7.0" ry="7.0" fill="url(#cg)" opacity="0.40"/>
<ellipse cx="586.5" cy="1177.6" rx="7.8" ry="11.3" fill="url(#cg)" opacity="0.80"/>
<ellipse cx="480.9" cy="1185.4" rx="18.3" ry="13.0" fill="url(#cg)" opacity="0.85"/>
<ellipse cx="521.3" cy="1199.4" rx="19.1" ry="13.0" fill="url(#cg)" opacity="0.90"/>
<ellipse cx="550.8" cy="1196.3" rx="8.7" ry="10.4" fill="url(#cg)" opacity="0.35"/>
<ellipse cx="550.8" cy="1221.1" rx="7.0" ry="7.0" fill="url(#cg)" opacity="0.25"/>
<ellipse cx="459.2" cy="1232.0" rx="7.0" ry="10.4" fill="url(#cg)" opacity="0.60"/>
<ellipse cx="482.5" cy="1230.4" rx="8.7" ry="8.7" fill="url(#cg)" opacity="0.80"/>
<ellipse cx="639.3" cy="1227.3" rx="10.4" ry="11.3" fill="url(#cg)" opacity="0.90"/>
<ellipse cx="567.9" cy="1250.6" rx="13.0" ry="13.0" fill="url(#cg)" opacity="0.85"/>
<ellipse cx="549.2" cy="1256.8" rx="8.7" ry="8.7" fill="url(#cg)" opacity="0.60"/>
<ellipse cx="468.5" cy="1263.0" rx="14.8" ry="12.2" fill="url(#cg)" opacity="0.85"/>
<ellipse cx="493.3" cy="1256.8" rx="11.3" ry="7.0" fill="url(#cg)" opacity="0.60"/>
<ellipse cx="516.6" cy="1261.5" rx="13.0" ry="13.9" fill="url(#cg)" opacity="0.70"/>
<ellipse cx="592.7" cy="1259.9" rx="13.0" ry="12.2" fill="url(#cg)" opacity="0.55"/>
<ellipse cx="631.5" cy="1255.3" rx="13.0" ry="13.9" fill="url(#cg)" opacity="0.65"/>
<ellipse cx="451.4" cy="1286.3" rx="17.4" ry="10.4" fill="url(#cg)" opacity="0.90"/>
<ellipse cx="571.0" cy="1294.1" rx="13.0" ry="17.4" fill="url(#cg)" opacity="0.75"/>
<ellipse cx="602.0" cy="1297.2" rx="8.7" ry="11.3" fill="url(#cg)" opacity="0.70"/>
<ellipse cx="631.5" cy="1303.4" rx="8.7" ry="7.0" fill="url(#cg)" opacity="0.70"/>
<ellipse cx="645.5" cy="1283.2" rx="6.1" ry="10.4" fill="url(#cg)" opacity="0.60"/>
<ellipse cx="508.9" cy="1308.0" rx="8.7" ry="5.2" fill="url(#cg)" opacity="0.50"/>
<ellipse cx="567.9" cy="1325.1" rx="10.4" ry="7.0" fill="url(#cg)" opacity="0.80"/>
<ellipse cx="510.4" cy="1336.0" rx="13.9" ry="5.2" fill="url(#cg)" opacity="0.80"/>
<ellipse cx="532.2" cy="1336.0" rx="7.0" ry="5.2" fill="url(#cg)" opacity="0.60"/>
<ellipse cx="443.7" cy="1314.3" rx="5.2" ry="10.4" fill="url(#cg)" opacity="0.70"/>
<ellipse cx="535.3" cy="1291.0" rx="7.0" ry="7.0" fill="url(#cg)" opacity="0.40"/>
</g></g>
<clipPath id="clipd"><rect x="765" y="852" width="648" height="486"/></clipPath>
<g clip-path="url(#clipd)"><g filter="url(#soft)">
<ellipse cx="782.1" cy="855.1" rx="7.0" ry="3.5" fill="url(#cg2)" opacity="0.36"/>
<ellipse cx="843.4" cy="859.8" rx="7.8" ry="8.7" fill="url(#cg2)" opacity="0.63"/>
<ellipse cx="868.2" cy="870.6" rx="9.6" ry="10.4" fill="url(#cg2)" opacity="0.45"/>
<ellipse cx="771.2" cy="895.5" rx="6.1" ry="8.7" fill="url(#cg2)" opacity="0.54" transform="rotate(22 771.2 895.5)"/>
<ellipse cx="780.5" cy="906.3" rx="7.8" ry="19.1" fill="url(#cg2)" opacity="0.72" transform="rotate(22 780.5 906.3)"/>
<ellipse cx="803.8" cy="892.4" rx="8.7" ry="12.2" fill="url(#cg2)" opacity="0.77" transform="rotate(22 803.8 892.4)"/>
<ellipse cx="822.4" cy="898.6" rx="11.3" ry="8.7" fill="url(#cg2)" opacity="0.68"/>
<ellipse cx="814.7" cy="912.6" rx="6.1" ry="5.2" fill="url(#cg2)" opacity="0.54"/>
<ellipse cx="771.2" cy="935.8" rx="5.2" ry="9.6" fill="url(#cg2)" opacity="0.54" transform="rotate(22 771.2 935.8)"/>
<ellipse cx="973.0" cy="879.9" rx="8.7" ry="10.4" fill="url(#cg2)" opacity="0.41" transform="rotate(22 973.0 879.9)"/>
<ellipse cx="982.4" cy="861.3" rx="3.5" ry="5.2" fill="url(#cg2)" opacity="0.45" transform="rotate(22 982.4 861.3)"/>
<ellipse cx="983.9" cy="907.9" rx="2.6" ry="10.4" fill="url(#cg2)" opacity="0.45" transform="rotate(22 983.9 907.9)"/>
<ellipse cx="895.4" cy="926.5" rx="8.7" ry="10.4" fill="url(#cg2)" opacity="0.77" transform="rotate(22 895.4 926.5)"/>
<ellipse cx="890.8" cy="943.6" rx="8.7" ry="9.6" fill="url(#cg2)" opacity="0.77"/>
<ellipse cx="929.6" cy="928.1" rx="10.4" ry="8.7" fill="url(#cg2)" opacity="0.32"/>
<ellipse cx="959.1" cy="920.3" rx="8.7" ry="7.8" fill="url(#cg2)" opacity="0.45"/>
<ellipse cx="932.7" cy="951.4" rx="8.7" ry="11.3" fill="url(#cg2)" opacity="0.54" transform="rotate(22 932.7 951.4)"/>
<ellipse cx="943.5" cy="948.3" rx="5.2" ry="5.2" fill="url(#cg2)" opacity="0.27"/>
<ellipse cx="800.7" cy="957.6" rx="7.0" ry="6.1" fill="url(#cg2)" opacity="0.27"/>
<ellipse cx="836.4" cy="970.0" rx="9.6" ry="10.4" fill="url(#cg2)" opacity="0.41"/>
<ellipse cx="883.0" cy="973.1" rx="9.6" ry="9.6" fill="url(#cg2)" opacity="0.72"/>
<ellipse cx="900.1" cy="970.0" rx="7.0" ry="7.0" fill="url(#cg2)" opacity="0.36"/>
<ellipse cx="791.4" cy="984.0" rx="7.0" ry="15.6" fill="url(#cg2)" opacity="0.54" transform="rotate(22 791.4 984.0)"/>
<ellipse cx="816.2" cy="1005.7" rx="16.5" ry="15.6" fill="url(#cg2)" opacity="0.72"/>
<ellipse cx="910.9" cy="988.6" rx="10.4" ry="11.3" fill="url(#cg2)" opacity="0.59"/>
<ellipse cx="920.3" cy="984.0" rx="5.2" ry="5.2" fill="url(#cg2)" opacity="0.36"/>
<ellipse cx="873.7" cy="1005.7" rx="6.1" ry="7.0" fill="url(#cg2)" opacity="0.27"/>
<ellipse cx="935.8" cy="1008.8" rx="7.0" ry="17.4" fill="url(#cg2)" opacity="0.41" transform="rotate(22 935.8 1008.8)"/>
<ellipse cx="976.2" cy="1011.9" rx="8.7" ry="10.4" fill="url(#cg2)" opacity="0.54" transform="rotate(22 976.2 1011.9)"/>
<ellipse cx="898.5" cy="1022.8" rx="5.2" ry="4.3" fill="url(#cg2)" opacity="0.23"/>
<ellipse cx="819.3" cy="1038.3" rx="9.6" ry="14.8" fill="url(#cg2)" opacity="0.63" transform="rotate(22 819.3 1038.3)"/>
<ellipse cx="937.3" cy="1039.9" rx="9.6" ry="11.3" fill="url(#cg2)" opacity="0.59" transform="rotate(22 937.3 1039.9)"/>
<ellipse cx="774.3" cy="1053.8" rx="7.0" ry="10.4" fill="url(#cg2)" opacity="0.45" transform="rotate(22 774.3 1053.8)"/>
<ellipse cx="819.3" cy="1061.6" rx="9.6" ry="8.7" fill="url(#cg2)" opacity="0.63"/>
<ellipse cx="901.6" cy="1052.3" rx="8.7" ry="13.0" fill="url(#cg2)" opacity="0.63" transform="rotate(22 901.6 1052.3)"/>
<ellipse cx="914.0" cy="1074.0" rx="7.8" ry="8.7" fill="url(#cg2)" opacity="0.36"/>
<ellipse cx="802.3" cy="1081.8" rx="7.8" ry="11.3" fill="url(#cg2)" opacity="0.63" transform="rotate(22 802.3 1081.8)"/>
<ellipse cx="842.6" cy="1078.7" rx="8.7" ry="13.9" fill="url(#cg2)" opacity="0.72" transform="rotate(22 842.6 1078.7)"/>
<ellipse cx="948.2" cy="1074.0" rx="8.7" ry="10.4" fill="url(#cg2)" opacity="0.68" transform="rotate(22 948.2 1074.0)"/>
<ellipse cx="889.2" cy="1088.0" rx="5.2" ry="4.3" fill="url(#cg2)" opacity="0.36"/>
<ellipse cx="989.7" cy="858.2" rx="5.2" ry="7.0" fill="url(#cg2)" opacity="0.45" transform="rotate(22 989.7 858.2)"/>
<ellipse cx="1065.7" cy="867.5" rx="9.6" ry="19.1" fill="url(#cg2)" opacity="0.63" transform="rotate(22 1065.7 867.5)"/>
<ellipse cx="1085.9" cy="869.1" rx="7.0" ry="10.4" fill="url(#cg2)" opacity="0.68" transform="rotate(22 1085.9 869.1)"/>
<ellipse cx="1096.8" cy="858.2" rx="7.0" ry="7.8" fill="url(#cg2)" opacity="0.68"/>
<ellipse cx="1109.2" cy="875.3" rx="8.7" ry="13.9" fill="url(#cg2)" opacity="0.63" transform="rotate(22 1109.2 875.3)"/>
<ellipse cx="1130.9" cy="884.6" rx="8.7" ry="19.1" fill="url(#cg2)" opacity="0.63" transform="rotate(22 1130.9 884.6)"/>
<ellipse cx="1155.8" cy="875.3" rx="7.0" ry="12.2" fill="url(#cg2)" opacity="0.63" transform="rotate(22 1155.8 875.3)"/>
<ellipse cx="1197.7" cy="887.7" rx="5.2" ry="17.4" fill="url(#cg2)" opacity="0.36" transform="rotate(22 1197.7 887.7)"/>
<ellipse cx="1036.2" cy="897.0" rx="9.6" ry="15.6" fill="url(#cg2)" opacity="0.63" transform="rotate(22 1036.2 897.0)"/>
<ellipse cx="988.1" cy="907.9" rx="7.0" ry="17.4" fill="url(#cg2)" opacity="0.68" transform="rotate(22 988.1 907.9)"/>
<ellipse cx="1012.9" cy="925.0" rx="7.0" ry="14.8" fill="url(#cg2)" opacity="0.63" transform="rotate(22 1012.9 925.0)"/>
<ellipse cx="1073.5" cy="920.3" rx="8.7" ry="8.7" fill="url(#cg2)" opacity="0.77"/>
<ellipse cx="1099.9" cy="915.7" rx="6.1" ry="7.0" fill="url(#cg2)" opacity="0.36"/>
<ellipse cx="1079.7" cy="895.5" rx="6.1" ry="7.0" fill="url(#cg2)" opacity="0.27"/>
<ellipse cx="1059.5" cy="940.5" rx="8.7" ry="13.0" fill="url(#cg2)" opacity="0.50" transform="rotate(22 1059.5 940.5)"/>
<ellipse cx="1130.9" cy="943.6" rx="8.7" ry="15.6" fill="url(#cg2)" opacity="0.68" transform="rotate(22 1130.9 943.6)"/>
<ellipse cx="1151.1" cy="928.1" rx="7.8" ry="8.7" fill="url(#cg2)" opacity="0.36"/>
<ellipse cx="1176.0" cy="932.7" rx="9.6" ry="13.9" fill="url(#cg2)" opacity="0.50" transform="rotate(22 1176.0 932.7)"/>
<ellipse cx="1189.9" cy="940.5" rx="7.0" ry="8.7" fill="url(#cg2)" opacity="0.54" transform="rotate(22 1189.9 940.5)"/>
<ellipse cx="1151.1" cy="960.7" rx="7.8" ry="9.6" fill="url(#cg2)" opacity="0.50" transform="rotate(22 1151.1 960.7)"/>
<ellipse cx="1151.1" cy="974.7" rx="5.2" ry="3.5" fill="url(#cg2)" opacity="0.54"/>
<ellipse cx="1048.7" cy="966.9" rx="6.1" ry="14.8" fill="url(#cg2)" opacity="0.59" transform="rotate(22 1048.7 966.9)"/>
<ellipse cx="1061.1" cy="985.5" rx="7.0" ry="13.0" fill="url(#cg2)" opacity="0.45" transform="rotate(22 1061.1 985.5)"/>
<ellipse cx="1093.7" cy="980.9" rx="8.7" ry="10.4" fill="url(#cg2)" opacity="0.68" transform="rotate(22 1093.7 980.9)"/>
<ellipse cx="1087.5" cy="997.9" rx="7.0" ry="10.4" fill="url(#cg2)" opacity="0.27" transform="rotate(22 1087.5 997.9)"/>
<ellipse cx="1120.1" cy="988.6" rx="7.0" ry="13.0" fill="url(#cg2)" opacity="0.54" transform="rotate(22 1120.1 988.6)"/>
<ellipse cx="1138.7" cy="979.3" rx="7.0" ry="17.4" fill="url(#cg2)" opacity="0.45" transform="rotate(22 1138.7 979.3)"/>
<ellipse cx="1158.9" cy="996.4" rx="7.0" ry="7.0" fill="url(#cg2)" opacity="0.68"/>
<ellipse cx="1051.8" cy="1007.3" rx="7.8" ry="8.7" fill="url(#cg2)" opacity="0.68"/>
<ellipse cx="1071.9" cy="1007.3" rx="7.0" ry="13.9" fill="url(#cg2)" opacity="0.54" transform="rotate(22 1071.9 1007.3)"/>
<ellipse cx="989.7" cy="1010.4" rx="7.0" ry="10.4" fill="url(#cg2)" opacity="0.63" transform="rotate(22 989.7 1010.4)"/>
<ellipse cx="1005.2" cy="1022.8" rx="8.7" ry="13.9" fill="url(#cg2)" opacity="0.77" transform="rotate(22 1005.2 1022.8)"/>
<ellipse cx="1037.8" cy="1029.0" rx="8.7" ry="10.4" fill="url(#cg2)" opacity="0.59" transform="rotate(22 1037.8 1029.0)"/>
<ellipse cx="1123.2" cy="1015.0" rx="7.0" ry="10.4" fill="url(#cg2)" opacity="0.50" transform="rotate(22 1123.2 1015.0)"/>
<ellipse cx="1151.1" cy="1030.5" rx="7.8" ry="11.3" fill="url(#cg2)" opacity="0.36" transform="rotate(22 1151.1 1030.5)"/>
<ellipse cx="1138.7" cy="1043.0" rx="8.7" ry="9.6" fill="url(#cg2)" opacity="0.36"/>
<ellipse cx="1019.2" cy="1058.5" rx="9.6" ry="13.9" fill="url(#cg2)" opacity="0.59" transform="rotate(22 1019.2 1058.5)"/>
<ellipse cx="1064.2" cy="1052.3" rx="8.7" ry="11.3" fill="url(#cg2)" opacity="0.68" transform="rotate(22 1064.2 1052.3)"/>
<ellipse cx="1099.9" cy="1050.7" rx="9.6" ry="15.6" fill="url(#cg2)" opacity="0.50" transform="rotate(22 1099.9 1050.7)"/>
<ellipse cx="1155.8" cy="1064.7" rx="7.0" ry="8.7" fill="url(#cg2)" opacity="0.59" transform="rotate(22 1155.8 1064.7)"/>
<ellipse cx="1174.4" cy="1063.2" rx="10.4" ry="11.3" fill="url(#cg2)" opacity="0.59"/>
<ellipse cx="1194.6" cy="1053.8" rx="7.0" ry="11.3" fill="url(#cg2)" opacity="0.54" transform="rotate(22 1194.6 1053.8)"/>
<ellipse cx="1168.2" cy="1078.7" rx="7.8" ry="11.3" fill="url(#cg2)" opacity="0.54" transform="rotate(22 1168.2 1078.7)"/>
<ellipse cx="988.1" cy="1077.1" rx="4.3" ry="8.7" fill="url(#cg2)" opacity="0.27" transform="rotate(22 988.1 1077.1)"/>
<ellipse cx="1000.5" cy="976.2" rx="5.2" ry="5.2" fill="url(#cg2)" opacity="0.18"/>
<ellipse cx="1266.9" cy="866.0" rx="12.2" ry="12.2" fill="url(#cg2)" opacity="0.50"/>
<ellipse cx="1325.9" cy="858.2" rx="7.0" ry="7.0" fill="url(#cg2)" opacity="0.27"/>
<ellipse cx="1364.7" cy="866.0" rx="6.1" ry="13.0" fill="url(#cg2)" opacity="0.54" transform="rotate(22 1364.7 866.0)"/>
<ellipse cx="1383.3" cy="872.2" rx="5.2" ry="5.2" fill="url(#cg2)" opacity="0.36"/>
<ellipse cx="1228.8" cy="906.3" rx="7.8" ry="17.4" fill="url(#cg2)" opacity="0.68" transform="rotate(22 1228.8 906.3)"/>
<ellipse cx="1257.6" cy="895.5" rx="7.8" ry="15.6" fill="url(#cg2)" opacity="0.54" transform="rotate(22 1257.6 895.5)"/>
<ellipse cx="1271.5" cy="901.7" rx="9.6" ry="6.1" fill="url(#cg2)" opacity="0.63"/>
<ellipse cx="1303.4" cy="897.0" rx="7.8" ry="13.0" fill="url(#cg2)" opacity="0.63" transform="rotate(22 1303.4 897.0)"/>
<ellipse cx="1222.6" cy="932.7" rx="4.3" ry="5.2" fill="url(#cg2)" opacity="0.54" transform="rotate(22 1222.6 932.7)"/>
<ellipse cx="1352.3" cy="920.3" rx="7.0" ry="7.0" fill="url(#cg2)" opacity="0.41"/>
<ellipse cx="1383.3" cy="915.7" rx="8.7" ry="10.4" fill="url(#cg2)" opacity="0.63" transform="rotate(22 1383.3 915.7)"/>
<ellipse cx="1397.3" cy="918.8" rx="5.2" ry="15.6" fill="url(#cg2)" opacity="0.45" transform="rotate(22 1397.3 918.8)"/>
<ellipse cx="1412.0" cy="918.8" rx="3.5" ry="5.2" fill="url(#cg2)" opacity="0.45" transform="rotate(22 1412.0 918.8)"/>
<ellipse cx="1377.1" cy="942.0" rx="7.0" ry="11.3" fill="url(#cg2)" opacity="0.54" transform="rotate(22 1377.1 942.0)"/>
<ellipse cx="1273.1" cy="946.7" rx="8.7" ry="15.6" fill="url(#cg2)" opacity="0.63" transform="rotate(22 1273.1 946.7)"/>
<ellipse cx="1310.3" cy="963.8" rx="5.2" ry="7.8" fill="url(#cg2)" opacity="0.36" transform="rotate(22 1310.3 963.8)"/>
<ellipse cx="1212.5" cy="977.8" rx="8.7" ry="13.9" fill="url(#cg2)" opacity="0.59" transform="rotate(22 1212.5 977.8)"/>
<ellipse cx="1243.6" cy="993.3" rx="9.6" ry="20.0" fill="url(#cg2)" opacity="0.54" transform="rotate(22 1243.6 993.3)"/>
<ellipse cx="1291.7" cy="988.6" rx="9.6" ry="10.4" fill="url(#cg2)" opacity="0.54"/>
<ellipse cx="1319.7" cy="977.8" rx="7.8" ry="7.8" fill="url(#cg2)" opacity="0.41"/>
<ellipse cx="1395.7" cy="991.7" rx="7.8" ry="8.7" fill="url(#cg2)" opacity="0.54"/>
<ellipse cx="1406.6" cy="1005.7" rx="5.2" ry="5.2" fill="url(#cg2)" opacity="0.50"/>
<ellipse cx="1325.9" cy="1008.8" rx="7.0" ry="12.2" fill="url(#cg2)" opacity="0.68" transform="rotate(22 1325.9 1008.8)"/>
<ellipse cx="1360.0" cy="1021.2" rx="8.7" ry="13.9" fill="url(#cg2)" opacity="0.50" transform="rotate(22 1360.0 1021.2)"/>
<ellipse cx="1277.7" cy="1010.4" rx="5.2" ry="8.7" fill="url(#cg2)" opacity="0.27" transform="rotate(22 1277.7 1010.4)"/>
<ellipse cx="1231.2" cy="1035.2" rx="13.0" ry="17.4" fill="url(#cg2)" opacity="0.54" transform="rotate(22 1231.2 1035.2)"/>
<ellipse cx="1198.6" cy="1052.3" rx="3.5" ry="8.7" fill="url(#cg2)" opacity="0.45" transform="rotate(22 1198.6 1052.3)"/>
<ellipse cx="1293.3" cy="1055.4" rx="13.9" ry="14.8" fill="url(#cg2)" opacity="0.45"/>
<ellipse cx="1342.9" cy="1049.2" rx="7.8" ry="7.0" fill="url(#cg2)" opacity="0.45"/>
<ellipse cx="1369.3" cy="1044.5" rx="7.0" ry="7.0" fill="url(#cg2)" opacity="0.45"/>
<ellipse cx="1384.9" cy="1060.0" rx="8.7" ry="14.8" fill="url(#cg2)" opacity="0.45" transform="rotate(22 1384.9 1060.0)"/>
<ellipse cx="1369.3" cy="1069.4" rx="7.0" ry="10.4" fill="url(#cg2)" opacity="0.36" transform="rotate(22 1369.3 1069.4)"/>
<ellipse cx="1209.4" cy="1080.2" rx="6.1" ry="10.4" fill="url(#cg2)" opacity="0.54" transform="rotate(22 1209.4 1080.2)"/>
<ellipse cx="1350.7" cy="1081.8" rx="7.0" ry="11.3" fill="url(#cg2)" opacity="0.41" transform="rotate(22 1350.7 1081.8)"/>
<ellipse cx="1274.6" cy="1088.0" rx="7.0" ry="5.2" fill="url(#cg2)" opacity="0.32"/>
<ellipse cx="768.9" cy="1104.9" rx="4.3" ry="10.4" fill="url(#cg2)" opacity="0.68" transform="rotate(22 768.9 1104.9)"/>
<ellipse cx="792.9" cy="1100.2" rx="5.2" ry="4.3" fill="url(#cg2)" opacity="0.36"/>
<ellipse cx="834.9" cy="1109.5" rx="13.0" ry="14.8" fill="url(#cg2)" opacity="0.77"/>
<ellipse cx="883.8" cy="1117.3" rx="7.8" ry="12.2" fill="url(#cg2)" opacity="0.63" transform="rotate(22 883.8 1117.3)"/>
<ellipse cx="929.6" cy="1108.0" rx="8.7" ry="13.9" fill="url(#cg2)" opacity="0.72" transform="rotate(22 929.6 1108.0)"/>
<ellipse cx="942.0" cy="1126.6" rx="8.7" ry="16.5" fill="url(#cg2)" opacity="0.68" transform="rotate(22 942.0 1126.6)"/>
<ellipse cx="963.7" cy="1123.5" rx="8.7" ry="7.8" fill="url(#cg2)" opacity="0.54"/>
<ellipse cx="775.1" cy="1131.3" rx="6.1" ry="13.0" fill="url(#cg2)" opacity="0.63" transform="rotate(22 775.1 1131.3)"/>
<ellipse cx="788.3" cy="1112.6" rx="4.3" ry="4.3" fill="url(#cg2)" opacity="0.27"/>
<ellipse cx="836.4" cy="1154.6" rx="8.7" ry="14.8" fill="url(#cg2)" opacity="0.72" transform="rotate(22 836.4 1154.6)"/>
<ellipse cx="879.1" cy="1144.5" rx="6.1" ry="5.2" fill="url(#cg2)" opacity="0.41"/>
<ellipse cx="966.8" cy="1157.7" rx="7.0" ry="15.6" fill="url(#cg2)" opacity="0.68" transform="rotate(22 966.8 1157.7)"/>
<ellipse cx="979.3" cy="1168.5" rx="6.1" ry="13.9" fill="url(#cg2)" opacity="0.63" transform="rotate(22 979.3 1168.5)"/>
<ellipse cx="946.7" cy="1165.4" rx="7.0" ry="7.0" fill="url(#cg2)" opacity="0.32"/>
<ellipse cx="889.2" cy="1171.6" rx="9.6" ry="12.2" fill="url(#cg2)" opacity="0.72" transform="rotate(22 889.2 1171.6)"/>
<ellipse cx="912.5" cy="1167.0" rx="9.6" ry="13.0" fill="url(#cg2)" opacity="0.72" transform="rotate(22 912.5 1167.0)"/>
<ellipse cx="861.3" cy="1187.2" rx="8.7" ry="13.0" fill="url(#cg2)" opacity="0.72" transform="rotate(22 861.3 1187.2)"/>
<ellipse cx="884.5" cy="1198.0" rx="9.6" ry="13.9" fill="url(#cg2)" opacity="0.77" transform="rotate(22 884.5 1198.0)"/>
<ellipse cx="904.7" cy="1191.8" rx="10.4" ry="11.3" fill="url(#cg2)" opacity="0.77"/>
<ellipse cx="825.6" cy="1212.0" rx="7.8" ry="7.8" fill="url(#cg2)" opacity="0.32"/>
<ellipse cx="791.4" cy="1241.5" rx="8.7" ry="14.8" fill="url(#cg2)" opacity="0.54" transform="rotate(22 791.4 1241.5)"/>
<ellipse cx="904.7" cy="1246.2" rx="8.7" ry="15.6" fill="url(#cg2)" opacity="0.54" transform="rotate(22 904.7 1246.2)"/>
<ellipse cx="942.0" cy="1239.9" rx="13.9" ry="13.9" fill="url(#cg2)" opacity="0.72"/>
<ellipse cx="956.0" cy="1224.4" rx="5.2" ry="8.7" fill="url(#cg2)" opacity="0.54" transform="rotate(22 956.0 1224.4)"/>
<ellipse cx="974.6" cy="1246.2" rx="7.8" ry="10.4" fill="url(#cg2)" opacity="0.68" transform="rotate(22 974.6 1246.2)"/>
<ellipse cx="926.5" cy="1243.0" rx="5.2" ry="5.2" fill="url(#cg2)" opacity="0.45"/>
<ellipse cx="921.8" cy="1269.4" rx="7.0" ry="13.9" fill="url(#cg2)" opacity="0.45" transform="rotate(22 921.8 1269.4)"/>
<ellipse cx="949.8" cy="1263.2" rx="9.6" ry="8.7" fill="url(#cg2)" opacity="0.36"/>
<ellipse cx="811.6" cy="1267.9" rx="7.0" ry="12.2" fill="url(#cg2)" opacity="0.63" transform="rotate(22 811.6 1267.9)"/>
<ellipse cx="802.3" cy="1285.0" rx="8.7" ry="10.4" fill="url(#cg2)" opacity="0.77" transform="rotate(22 802.3 1285.0)"/>
<ellipse cx="879.9" cy="1285.0" rx="9.6" ry="17.4" fill="url(#cg2)" opacity="0.77" transform="rotate(22 879.9 1285.0)"/>
<ellipse cx="819.3" cy="1302.0" rx="6.1" ry="13.9" fill="url(#cg2)" opacity="0.63" transform="rotate(22 819.3 1302.0)"/>
<ellipse cx="834.9" cy="1312.9" rx="4.3" ry="4.3" fill="url(#cg2)" opacity="0.45"/>
<ellipse cx="792.9" cy="1319.1" rx="10.4" ry="16.5" fill="url(#cg2)" opacity="0.77" transform="rotate(22 792.9 1319.1)"/>
<ellipse cx="769.7" cy="1305.2" rx="4.3" ry="7.0" fill="url(#cg2)" opacity="0.54" transform="rotate(22 769.7 1305.2)"/>
<ellipse cx="768.1" cy="1323.8" rx="4.3" ry="8.7" fill="url(#cg2)" opacity="0.68" transform="rotate(22 768.1 1323.8)"/>
<ellipse cx="867.5" cy="1320.7" rx="8.7" ry="13.0" fill="url(#cg2)" opacity="0.72" transform="rotate(22 867.5 1320.7)"/>
<ellipse cx="892.3" cy="1311.4" rx="9.6" ry="11.3" fill="url(#cg2)" opacity="0.72" transform="rotate(22 892.3 1311.4)"/>
<ellipse cx="952.9" cy="1322.2" rx="11.3" ry="15.6" fill="url(#cg2)" opacity="0.72" transform="rotate(22 952.9 1322.2)"/>
<ellipse cx="977.7" cy="1316.0" rx="6.1" ry="13.9" fill="url(#cg2)" opacity="0.54" transform="rotate(22 977.7 1316.0)"/>
<ellipse cx="884.5" cy="1334.6" rx="7.0" ry="3.5" fill="url(#cg2)" opacity="0.54"/>
<ellipse cx="989.7" cy="1101.8" rx="7.0" ry="12.2" fill="url(#cg2)" opacity="0.54" transform="rotate(22 989.7 1101.8)"/>
<ellipse cx="1030.0" cy="1118.8" rx="9.6" ry="15.6" fill="url(#cg2)" opacity="0.54" transform="rotate(22 1030.0 1118.8)"/>
<ellipse cx="1042.4" cy="1131.3" rx="6.1" ry="12.2" fill="url(#cg2)" opacity="0.68" transform="rotate(22 1042.4 1131.3)"/>
<ellipse cx="1059.5" cy="1121.9" rx="6.1" ry="16.5" fill="url(#cg2)" opacity="0.50" transform="rotate(22 1059.5 1121.9)"/>
<ellipse cx="1019.2" cy="1142.1" rx="4.3" ry="4.3" fill="url(#cg2)" opacity="0.45"/>
<ellipse cx="1109.2" cy="1117.3" rx="7.8" ry="15.6" fill="url(#cg2)" opacity="0.54" transform="rotate(22 1109.2 1117.3)"/>
<ellipse cx="1135.6" cy="1115.7" rx="7.8" ry="13.9" fill="url(#cg2)" opacity="0.59" transform="rotate(22 1135.6 1115.7)"/>
<ellipse cx="1141.8" cy="1137.5" rx="7.8" ry="5.2" fill="url(#cg2)" opacity="0.45"/>
<ellipse cx="1186.8" cy="1101.8" rx="6.1" ry="11.3" fill="url(#cg2)" opacity="0.54" transform="rotate(22 1186.8 1101.8)"/>
<ellipse cx="1003.6" cy="1159.2" rx="7.0" ry="7.0" fill="url(#cg2)" opacity="0.23"/>
<ellipse cx="1070.4" cy="1156.1" rx="6.1" ry="13.9" fill="url(#cg2)" opacity="0.54" transform="rotate(22 1070.4 1156.1)"/>
<ellipse cx="1085.9" cy="1168.5" rx="7.0" ry="14.8" fill="url(#cg2)" opacity="0.68" transform="rotate(22 1085.9 1168.5)"/>
<ellipse cx="1110.8" cy="1162.3" rx="7.8" ry="16.5" fill="url(#cg2)" opacity="0.54" transform="rotate(22 1110.8 1162.3)"/>
<ellipse cx="1180.6" cy="1163.9" rx="7.8" ry="9.6" fill="url(#cg2)" opacity="0.27" transform="rotate(22 1180.6 1163.9)"/>
<ellipse cx="1037.8" cy="1196.5" rx="9.6" ry="13.9" fill="url(#cg2)" opacity="0.59" transform="rotate(22 1037.8 1196.5)"/>
<ellipse cx="997.4" cy="1216.7" rx="14.8" ry="15.6" fill="url(#cg2)" opacity="0.77"/>
<ellipse cx="1118.5" cy="1190.3" rx="8.7" ry="13.0" fill="url(#cg2)" opacity="0.59" transform="rotate(22 1118.5 1190.3)"/>
<ellipse cx="1140.3" cy="1188.7" rx="6.1" ry="12.2" fill="url(#cg2)" opacity="0.50" transform="rotate(22 1140.3 1188.7)"/>
<ellipse cx="1127.8" cy="1205.8" rx="6.1" ry="7.0" fill="url(#cg2)" opacity="0.45"/>
<ellipse cx="1151.1" cy="1205.8" rx="4.3" ry="6.1" fill="url(#cg2)" opacity="0.41" transform="rotate(22 1151.1 1205.8)"/>
<ellipse cx="1079.7" cy="1230.6" rx="9.6" ry="19.1" fill="url(#cg2)" opacity="0.59" transform="rotate(22 1079.7 1230.6)"/>
<ellipse cx="1095.2" cy="1243.0" rx="7.0" ry="13.9" fill="url(#cg2)" opacity="0.54" transform="rotate(22 1095.2 1243.0)"/>
<ellipse cx="1009.8" cy="1244.6" rx="6.1" ry="7.0" fill="url(#cg2)" opacity="0.59"/>
<ellipse cx="1157.3" cy="1252.4" rx="7.0" ry="13.9" fill="url(#cg2)" opacity="0.59" transform="rotate(22 1157.3 1252.4)"/>
<ellipse cx="1172.9" cy="1239.9" rx="8.7" ry="8.7" fill="url(#cg2)" opacity="0.50"/>
<ellipse cx="1202.4" cy="1252.4" rx="3.5" ry="13.0" fill="url(#cg2)" opacity="0.36" transform="rotate(22 1202.4 1252.4)"/>
<ellipse cx="1115.4" cy="1266.3" rx="7.8" ry="13.9" fill="url(#cg2)" opacity="0.54" transform="rotate(22 1115.4 1266.3)"/>
<ellipse cx="1054.9" cy="1267.9" rx="9.6" ry="8.7" fill="url(#cg2)" opacity="0.32"/>
<ellipse cx="1087.5" cy="1278.8" rx="8.7" ry="17.4" fill="url(#cg2)" opacity="0.50" transform="rotate(22 1087.5 1278.8)"/>
<ellipse cx="1000.5" cy="1285.0" rx="9.6" ry="19.1" fill="url(#cg2)" opacity="0.68" transform="rotate(22 1000.5 1285.0)"/>
<ellipse cx="1031.6" cy="1305.2" rx="8.7" ry="10.4" fill="url(#cg2)" opacity="0.68" transform="rotate(22 1031.6 1305.2)"/>
<ellipse cx="1053.3" cy="1302.0" rx="5.2" ry="10.4" fill="url(#cg2)" opacity="0.32" transform="rotate(22 1053.3 1302.0)"/>
<ellipse cx="1034.7" cy="1325.3" rx="7.0" ry="13.0" fill="url(#cg2)" opacity="0.59" transform="rotate(22 1034.7 1325.3)"/>
<ellipse cx="1093.7" cy="1323.8" rx="6.1" ry="7.8" fill="url(#cg2)" opacity="0.27" transform="rotate(22 1093.7 1323.8)"/>
<ellipse cx="1117.0" cy="1331.5" rx="5.2" ry="5.2" fill="url(#cg2)" opacity="0.50"/>
<ellipse cx="1182.2" cy="1316.0" rx="9.6" ry="17.4" fill="url(#cg2)" opacity="0.50" transform="rotate(22 1182.2 1316.0)"/>
<ellipse cx="1260.7" cy="1103.3" rx="7.8" ry="10.4" fill="url(#cg2)" opacity="0.45" transform="rotate(22 1260.7 1103.3)"/>
<ellipse cx="1277.7" cy="1112.6" rx="6.1" ry="17.4" fill="url(#cg2)" opacity="0.54" transform="rotate(22 1277.7 1112.6)"/>
<ellipse cx="1302.6" cy="1106.4" rx="8.7" ry="12.2" fill="url(#cg2)" opacity="0.41" transform="rotate(22 1302.6 1106.4)"/>
<ellipse cx="1321.2" cy="1120.4" rx="8.7" ry="12.2" fill="url(#cg2)" opacity="0.63" transform="rotate(22 1321.2 1120.4)"/>
<ellipse cx="1352.3" cy="1097.1" rx="7.0" ry="5.2" fill="url(#cg2)" opacity="0.45"/>
<ellipse cx="1386.4" cy="1118.8" rx="7.0" ry="12.2" fill="url(#cg2)" opacity="0.45" transform="rotate(22 1386.4 1118.8)"/>
<ellipse cx="1297.9" cy="1126.6" rx="6.1" ry="7.0" fill="url(#cg2)" opacity="0.32"/>
<ellipse cx="1260.7" cy="1129.7" rx="6.1" ry="8.7" fill="url(#cg2)" opacity="0.45" transform="rotate(22 1260.7 1129.7)"/>
<ellipse cx="1346.0" cy="1143.7" rx="7.8" ry="12.2" fill="url(#cg2)" opacity="0.63" transform="rotate(22 1346.0 1143.7)"/>
<ellipse cx="1366.2" cy="1143.7" rx="10.4" ry="12.2" fill="url(#cg2)" opacity="0.63" transform="rotate(22 1366.2 1143.7)"/>
<ellipse cx="1369.3" cy="1123.5" rx="5.2" ry="7.0" fill="url(#cg2)" opacity="0.32" transform="rotate(22 1369.3 1123.5)"/>
<ellipse cx="1229.6" cy="1153.0" rx="4.3" ry="4.3" fill="url(#cg2)" opacity="0.45"/>
<ellipse cx="1246.7" cy="1162.3" rx="9.6" ry="19.1" fill="url(#cg2)" opacity="0.63" transform="rotate(22 1246.7 1162.3)"/>
<ellipse cx="1270.0" cy="1184.0" rx="7.8" ry="10.4" fill="url(#cg2)" opacity="0.45" transform="rotate(22 1270.0 1184.0)"/>
<ellipse cx="1243.6" cy="1198.0" rx="6.1" ry="13.9" fill="url(#cg2)" opacity="0.54" transform="rotate(22 1243.6 1198.0)"/>
<ellipse cx="1262.2" cy="1199.6" rx="7.0" ry="7.0" fill="url(#cg2)" opacity="0.32"/>
<ellipse cx="1299.5" cy="1199.6" rx="10.4" ry="12.2" fill="url(#cg2)" opacity="0.41" transform="rotate(22 1299.5 1199.6)"/>
<ellipse cx="1353.8" cy="1210.4" rx="7.0" ry="12.2" fill="url(#cg2)" opacity="0.41" transform="rotate(22 1353.8 1210.4)"/>
<ellipse cx="1386.4" cy="1215.1" rx="9.6" ry="19.1" fill="url(#cg2)" opacity="0.68" transform="rotate(22 1386.4 1215.1)"/>
<ellipse cx="1398.8" cy="1224.4" rx="7.0" ry="10.4" fill="url(#cg2)" opacity="0.45" transform="rotate(22 1398.8 1224.4)"/>
<ellipse cx="1411.3" cy="1233.7" rx="3.5" ry="7.0" fill="url(#cg2)" opacity="0.36" transform="rotate(22 1411.3 1233.7)"/>
<ellipse cx="1229.6" cy="1216.7" rx="5.2" ry="7.0" fill="url(#cg2)" opacity="0.36" transform="rotate(22 1229.6 1216.7)"/>
<ellipse cx="1208.6" cy="1249.3" rx="7.8" ry="20.9" fill="url(#cg2)" opacity="0.59" transform="rotate(22 1208.6 1249.3)"/>
<ellipse cx="1238.9" cy="1250.8" rx="8.7" ry="9.6" fill="url(#cg2)" opacity="0.36"/>
<ellipse cx="1276.2" cy="1249.3" rx="7.8" ry="8.7" fill="url(#cg2)" opacity="0.50"/>
<ellipse cx="1319.7" cy="1253.9" rx="5.2" ry="7.0" fill="url(#cg2)" opacity="0.27" transform="rotate(22 1319.7 1253.9)"/>
<ellipse cx="1380.2" cy="1258.6" rx="9.6" ry="15.6" fill="url(#cg2)" opacity="0.59" transform="rotate(22 1380.2 1258.6)"/>
<ellipse cx="1366.2" cy="1247.7" rx="7.0" ry="8.7" fill="url(#cg2)" opacity="0.32" transform="rotate(22 1366.2 1247.7)"/>
<ellipse cx="1279.3" cy="1267.9" rx="4.3" ry="4.3" fill="url(#cg2)" opacity="0.36"/>
<ellipse cx="1411.3" cy="1289.6" rx="4.3" ry="10.4" fill="url(#cg2)" opacity="0.45" transform="rotate(22 1411.3 1289.6)"/>
<ellipse cx="1207.9" cy="1320.7" rx="7.8" ry="15.6" fill="url(#cg2)" opacity="0.50" transform="rotate(22 1207.9 1320.7)"/>
<ellipse cx="1231.2" cy="1320.7" rx="8.7" ry="11.3" fill="url(#cg2)" opacity="0.41" transform="rotate(22 1231.2 1320.7)"/>
<ellipse cx="1310.3" cy="1317.6" rx="10.4" ry="8.7" fill="url(#cg2)" opacity="0.45"/>
<ellipse cx="1352.3" cy="1320.7" rx="9.6" ry="13.9" fill="url(#cg2)" opacity="0.63" transform="rotate(22 1352.3 1320.7)"/>
<ellipse cx="1378.7" cy="1326.9" rx="7.8" ry="10.4" fill="url(#cg2)" opacity="0.54" transform="rotate(22 1378.7 1326.9)"/>
</g></g>
<clipPath id="clipe"><rect x="4" y="1404" width="642" height="489"/></clipPath>
<g clip-path="url(#clipe)"><g filter="url(#soft)">
<ellipse cx="37.4" cy="1418.0" rx="10.4" ry="10.4" fill="url(#cg2)" opacity="0.77"/>
<ellipse cx="101.8" cy="1408.7" rx="17.4" ry="6.1" fill="url(#cg2)" opacity="0.77"/>
<ellipse cx="162.4" cy="1414.9" rx="10.4" ry="8.7" fill="url(#cg2)" opacity="0.32"/>
<ellipse cx="123.5" cy="1441.3" rx="15.6" ry="9.6" fill="url(#cg2)" opacity="0.77"/>
<ellipse cx="134.4" cy="1455.2" rx="13.0" ry="8.7" fill="url(#cg2)" opacity="0.77"/>
<ellipse cx="157.7" cy="1452.1" rx="11.3" ry="9.6" fill="url(#cg2)" opacity="0.72"/>
<ellipse cx="129.8" cy="1481.6" rx="14.8" ry="11.3" fill="url(#cg2)" opacity="0.63"/>
<ellipse cx="176.3" cy="1478.5" rx="7.0" ry="6.1" fill="url(#cg2)" opacity="0.27"/>
<ellipse cx="103.4" cy="1501.8" rx="10.4" ry="9.6" fill="url(#cg2)" opacity="0.68"/>
<ellipse cx="139.1" cy="1501.0" rx="15.6" ry="9.6" fill="url(#cg2)" opacity="0.77"/>
<ellipse cx="176.3" cy="1508.0" rx="7.8" ry="7.0" fill="url(#cg2)" opacity="0.32"/>
<ellipse cx="122.0" cy="1528.2" rx="10.4" ry="5.2" fill="url(#cg2)" opacity="0.36"/>
<ellipse cx="87.8" cy="1539.1" rx="11.3" ry="8.7" fill="url(#cg2)" opacity="0.54"/>
<ellipse cx="168.6" cy="1534.4" rx="15.6" ry="13.0" fill="url(#cg2)" opacity="0.68"/>
<ellipse cx="125.1" cy="1551.5" rx="13.0" ry="12.2" fill="url(#cg2)" opacity="0.72"/>
<ellipse cx="154.6" cy="1562.4" rx="22.6" ry="13.9" fill="url(#cg2)" opacity="0.77"/>
<ellipse cx="157.7" cy="1579.4" rx="13.9" ry="11.3" fill="url(#cg2)" opacity="0.77"/>
<ellipse cx="98.7" cy="1567.0" rx="5.2" ry="5.2" fill="url(#cg2)" opacity="0.27"/>
<ellipse cx="70.8" cy="1587.2" rx="12.2" ry="8.7" fill="url(#cg2)" opacity="0.77"/>
<ellipse cx="139.1" cy="1595.0" rx="12.2" ry="7.0" fill="url(#cg2)" opacity="0.36"/>
<ellipse cx="215.2" cy="1601.2" rx="7.0" ry="10.4" fill="url(#cg2)" opacity="0.36"/>
<ellipse cx="109.6" cy="1604.3" rx="13.9" ry="5.2" fill="url(#cg2)" opacity="0.27"/>
<ellipse cx="104.9" cy="1627.6" rx="15.6" ry="11.3" fill="url(#cg2)" opacity="0.77"/>
<ellipse cx="125.1" cy="1630.7" rx="8.7" ry="7.0" fill="url(#cg2)" opacity="0.50"/>
<ellipse cx="159.3" cy="1630.7" rx="12.2" ry="8.7" fill="url(#cg2)" opacity="0.36"/>
<ellipse cx="228.3" cy="1416.4" rx="10.4" ry="8.7" fill="url(#cg2)" opacity="0.54"/>
<ellipse cx="278.0" cy="1408.7" rx="7.0" ry="4.3" fill="url(#cg2)" opacity="0.27"/>
<ellipse cx="243.8" cy="1448.2" rx="17.4" ry="13.9" fill="url(#cg2)" opacity="0.77"/>
<ellipse cx="321.5" cy="1441.3" rx="13.0" ry="12.2" fill="url(#cg2)" opacity="0.72"/>
<ellipse cx="341.7" cy="1431.9" rx="12.2" ry="9.6" fill="url(#cg2)" opacity="0.72"/>
<ellipse cx="364.9" cy="1433.5" rx="12.2" ry="9.6" fill="url(#cg2)" opacity="0.50"/>
<ellipse cx="357.2" cy="1458.3" rx="13.9" ry="14.8" fill="url(#cg2)" opacity="0.77"/>
<ellipse cx="431.7" cy="1419.5" rx="8.7" ry="13.0" fill="url(#cg2)" opacity="0.72"/>
<ellipse cx="410.0" cy="1421.1" rx="7.0" ry="7.0" fill="url(#cg2)" opacity="0.27"/>
<ellipse cx="400.7" cy="1464.6" rx="11.3" ry="8.7" fill="url(#cg2)" opacity="0.41"/>
<ellipse cx="301.3" cy="1478.5" rx="13.9" ry="14.8" fill="url(#cg2)" opacity="0.77"/>
<ellipse cx="329.2" cy="1486.3" rx="9.6" ry="14.8" fill="url(#cg2)" opacity="0.72"/>
<ellipse cx="262.5" cy="1481.6" rx="8.7" ry="9.6" fill="url(#cg2)" opacity="0.59"/>
<ellipse cx="226.8" cy="1498.7" rx="11.3" ry="12.2" fill="url(#cg2)" opacity="0.59"/>
<ellipse cx="251.6" cy="1504.9" rx="11.3" ry="11.3" fill="url(#cg2)" opacity="0.68"/>
<ellipse cx="389.8" cy="1484.7" rx="10.4" ry="10.4" fill="url(#cg2)" opacity="0.68"/>
<ellipse cx="419.3" cy="1487.8" rx="8.7" ry="5.2" fill="url(#cg2)" opacity="0.27"/>
<ellipse cx="405.3" cy="1512.7" rx="15.6" ry="12.2" fill="url(#cg2)" opacity="0.72"/>
<ellipse cx="434.8" cy="1536.0" rx="7.0" ry="8.7" fill="url(#cg2)" opacity="0.72"/>
<ellipse cx="223.7" cy="1549.9" rx="7.8" ry="11.3" fill="url(#cg2)" opacity="0.63"/>
<ellipse cx="279.6" cy="1546.8" rx="7.8" ry="10.4" fill="url(#cg2)" opacity="0.41"/>
<ellipse cx="313.7" cy="1563.9" rx="15.6" ry="10.4" fill="url(#cg2)" opacity="0.81"/>
<ellipse cx="405.3" cy="1543.7" rx="8.7" ry="7.0" fill="url(#cg2)" opacity="0.27"/>
<ellipse cx="402.2" cy="1556.2" rx="7.8" ry="7.0" fill="url(#cg2)" opacity="0.54"/>
<ellipse cx="377.4" cy="1563.9" rx="12.2" ry="9.6" fill="url(#cg2)" opacity="0.41"/>
<ellipse cx="375.8" cy="1585.7" rx="14.8" ry="11.3" fill="url(#cg2)" opacity="0.77"/>
<ellipse cx="392.9" cy="1581.0" rx="8.7" ry="8.7" fill="url(#cg2)" opacity="0.50"/>
<ellipse cx="413.1" cy="1587.2" rx="14.8" ry="10.4" fill="url(#cg2)" opacity="0.77"/>
<ellipse cx="419.3" cy="1599.6" rx="9.6" ry="8.7" fill="url(#cg2)" opacity="0.68"/>
<ellipse cx="276.4" cy="1590.3" rx="12.2" ry="11.3" fill="url(#cg2)" opacity="0.77"/>
<ellipse cx="243.8" cy="1596.5" rx="14.8" ry="8.7" fill="url(#cg2)" opacity="0.68"/>
<ellipse cx="349.4" cy="1607.4" rx="13.0" ry="9.6" fill="url(#cg2)" opacity="0.68"/>
<ellipse cx="344.8" cy="1629.1" rx="16.5" ry="10.4" fill="url(#cg2)" opacity="0.68"/>
<ellipse cx="422.4" cy="1632.2" rx="14.8" ry="13.0" fill="url(#cg2)" opacity="0.36"/>
<ellipse cx="281.1" cy="1632.2" rx="6.1" ry="7.0" fill="url(#cg2)" opacity="0.23"/>
<ellipse cx="440.6" cy="1418.0" rx="3.5" ry="7.0" fill="url(#cg2)" opacity="0.54"/>
<ellipse cx="462.3" cy="1428.8" rx="13.0" ry="12.2" fill="url(#cg2)" opacity="0.59"/>
<ellipse cx="477.8" cy="1435.1" rx="12.2" ry="10.4" fill="url(#cg2)" opacity="0.63"/>
<ellipse cx="507.3" cy="1447.5" rx="11.3" ry="14.8" fill="url(#cg2)" opacity="0.63"/>
<ellipse cx="558.5" cy="1421.1" rx="13.9" ry="11.3" fill="url(#cg2)" opacity="0.41"/>
<ellipse cx="552.3" cy="1439.7" rx="13.0" ry="9.6" fill="url(#cg2)" opacity="0.41"/>
<ellipse cx="630.0" cy="1413.3" rx="12.2" ry="7.0" fill="url(#cg2)" opacity="0.32"/>
<ellipse cx="580.3" cy="1458.3" rx="12.2" ry="13.0" fill="url(#cg2)" opacity="0.72"/>
<ellipse cx="575.6" cy="1473.9" rx="8.7" ry="8.7" fill="url(#cg2)" opacity="0.68"/>
<ellipse cx="541.5" cy="1475.4" rx="9.6" ry="9.6" fill="url(#cg2)" opacity="0.68"/>
<ellipse cx="493.3" cy="1469.2" rx="11.3" ry="7.0" fill="url(#cg2)" opacity="0.32"/>
<ellipse cx="608.2" cy="1452.1" rx="6.1" ry="5.2" fill="url(#cg2)" opacity="0.27"/>
<ellipse cx="643.9" cy="1477.0" rx="3.5" ry="7.0" fill="url(#cg2)" opacity="0.45"/>
<ellipse cx="457.6" cy="1494.0" rx="12.2" ry="13.9" fill="url(#cg2)" opacity="0.63"/>
<ellipse cx="463.8" cy="1518.9" rx="8.7" ry="7.0" fill="url(#cg2)" opacity="0.32"/>
<ellipse cx="442.1" cy="1536.0" rx="8.7" ry="9.6" fill="url(#cg2)" opacity="0.72"/>
<ellipse cx="494.9" cy="1545.3" rx="8.7" ry="11.3" fill="url(#cg2)" opacity="0.72"/>
<ellipse cx="519.7" cy="1537.5" rx="10.4" ry="10.4" fill="url(#cg2)" opacity="0.41"/>
<ellipse cx="552.3" cy="1529.8" rx="13.9" ry="12.2" fill="url(#cg2)" opacity="0.72"/>
<ellipse cx="605.1" cy="1523.5" rx="11.3" ry="11.3" fill="url(#cg2)" opacity="0.77"/>
<ellipse cx="631.5" cy="1520.4" rx="9.6" ry="13.9" fill="url(#cg2)" opacity="0.72"/>
<ellipse cx="609.8" cy="1553.0" rx="8.7" ry="10.4" fill="url(#cg2)" opacity="0.68"/>
<ellipse cx="552.3" cy="1560.8" rx="8.7" ry="11.3" fill="url(#cg2)" opacity="0.72"/>
<ellipse cx="588.0" cy="1576.3" rx="13.9" ry="13.9" fill="url(#cg2)" opacity="0.68"/>
<ellipse cx="626.9" cy="1573.2" rx="15.6" ry="14.8" fill="url(#cg2)" opacity="0.68"/>
<ellipse cx="507.3" cy="1591.9" rx="12.2" ry="12.2" fill="url(#cg2)" opacity="0.72"/>
<ellipse cx="574.1" cy="1604.3" rx="7.0" ry="7.8" fill="url(#cg2)" opacity="0.27"/>
<ellipse cx="527.5" cy="1618.3" rx="11.3" ry="11.3" fill="url(#cg2)" opacity="0.77"/>
<ellipse cx="463.8" cy="1621.4" rx="13.0" ry="10.4" fill="url(#cg2)" opacity="0.54"/>
<ellipse cx="512.0" cy="1640.0" rx="10.4" ry="8.7" fill="url(#cg2)" opacity="0.68"/>
<ellipse cx="566.3" cy="1636.9" rx="11.3" ry="12.2" fill="url(#cg2)" opacity="0.77"/>
<ellipse cx="617.5" cy="1646.2" rx="4.3" ry="2.6" fill="url(#cg2)" opacity="0.27"/>
<ellipse cx="72.3" cy="1654.2" rx="12.2" ry="8.7" fill="url(#cg2)" opacity="0.63"/>
<ellipse cx="173.2" cy="1653.4" rx="10.4" ry="7.8" fill="url(#cg2)" opacity="0.72"/>
<ellipse cx="137.5" cy="1665.1" rx="10.4" ry="7.8" fill="url(#cg2)" opacity="0.45"/>
<ellipse cx="92.5" cy="1671.3" rx="7.0" ry="4.3" fill="url(#cg2)" opacity="0.27"/>
<ellipse cx="165.5" cy="1683.7" rx="13.9" ry="8.7" fill="url(#cg2)" opacity="0.54"/>
<ellipse cx="208.9" cy="1682.2" rx="12.2" ry="9.6" fill="url(#cg2)" opacity="0.72"/>
<ellipse cx="129.8" cy="1693.0" rx="10.4" ry="9.6" fill="url(#cg2)" opacity="0.54"/>
<ellipse cx="117.3" cy="1705.4" rx="9.6" ry="7.8" fill="url(#cg2)" opacity="0.63"/>
<ellipse cx="179.4" cy="1707.0" rx="13.9" ry="9.6" fill="url(#cg2)" opacity="0.68"/>
<ellipse cx="218.3" cy="1705.4" rx="6.1" ry="6.1" fill="url(#cg2)" opacity="0.36"/>
<ellipse cx="151.5" cy="1717.9" rx="7.0" ry="9.6" fill="url(#cg2)" opacity="0.63"/>
<ellipse cx="134.4" cy="1730.3" rx="12.2" ry="12.2" fill="url(#cg2)" opacity="0.77"/>
<ellipse cx="103.4" cy="1742.7" rx="12.2" ry="13.0" fill="url(#cg2)" opacity="0.77"/>
<ellipse cx="148.4" cy="1752.0" rx="13.0" ry="10.4" fill="url(#cg2)" opacity="0.63"/>
<ellipse cx="182.5" cy="1747.4" rx="10.4" ry="8.7" fill="url(#cg2)" opacity="0.50"/>
<ellipse cx="115.8" cy="1762.9" rx="10.4" ry="7.0" fill="url(#cg2)" opacity="0.27"/>
<ellipse cx="163.9" cy="1764.4" rx="13.0" ry="7.0" fill="url(#cg2)" opacity="0.45"/>
<ellipse cx="191.9" cy="1781.5" rx="12.2" ry="9.6" fill="url(#cg2)" opacity="0.77"/>
<ellipse cx="81.6" cy="1787.7" rx="6.1" ry="6.1" fill="url(#cg2)" opacity="0.54"/>
<ellipse cx="98.7" cy="1786.2" rx="7.0" ry="6.1" fill="url(#cg2)" opacity="0.50"/>
<ellipse cx="143.7" cy="1787.7" rx="10.4" ry="6.1" fill="url(#cg2)" opacity="0.41"/>
<ellipse cx="219.8" cy="1801.7" rx="8.7" ry="10.4" fill="url(#cg2)" opacity="0.72"/>
<ellipse cx="78.5" cy="1831.2" rx="8.7" ry="7.8" fill="url(#cg2)" opacity="0.27"/>
<ellipse cx="90.9" cy="1837.4" rx="10.4" ry="7.0" fill="url(#cg2)" opacity="0.36"/>
<ellipse cx="208.9" cy="1831.2" rx="13.9" ry="9.6" fill="url(#cg2)" opacity="0.54"/>
<ellipse cx="182.5" cy="1843.6" rx="15.6" ry="12.2" fill="url(#cg2)" opacity="0.54"/>
<ellipse cx="168.6" cy="1854.5" rx="13.0" ry="7.0" fill="url(#cg2)" opacity="0.59"/>
<ellipse cx="153.0" cy="1839.0" rx="10.4" ry="8.7" fill="url(#cg2)" opacity="0.27"/>
<ellipse cx="104.9" cy="1823.4" rx="6.1" ry="6.1" fill="url(#cg2)" opacity="0.18"/>
<ellipse cx="115.8" cy="1865.4" rx="10.4" ry="7.0" fill="url(#cg2)" opacity="0.23"/>
<ellipse cx="122.0" cy="1884.0" rx="8.7" ry="7.0" fill="url(#cg2)" opacity="0.59"/>
<ellipse cx="185.7" cy="1882.4" rx="19.1" ry="9.6" fill="url(#cg2)" opacity="0.50"/>
<ellipse cx="100.3" cy="1887.1" rx="7.0" ry="5.2" fill="url(#cg2)" opacity="0.36"/>
<ellipse cx="69.2" cy="1879.3" rx="5.2" ry="7.0" fill="url(#cg2)" opacity="0.23"/>
<ellipse cx="253.2" cy="1654.2" rx="13.0" ry="7.8" fill="url(#cg2)" opacity="0.77"/>
<ellipse cx="313.7" cy="1669.7" rx="12.2" ry="9.6" fill="url(#cg2)" opacity="0.45"/>
<ellipse cx="428.6" cy="1654.2" rx="10.4" ry="7.8" fill="url(#cg2)" opacity="0.27"/>
<ellipse cx="222.1" cy="1679.1" rx="3.5" ry="5.2" fill="url(#cg2)" opacity="0.27"/>
<ellipse cx="246.9" cy="1688.4" rx="5.2" ry="5.2" fill="url(#cg2)" opacity="0.27"/>
<ellipse cx="234.5" cy="1707.0" rx="15.6" ry="6.1" fill="url(#cg2)" opacity="0.27"/>
<ellipse cx="310.6" cy="1714.8" rx="22.6" ry="18.3" fill="url(#cg2)" opacity="0.68"/>
<ellipse cx="357.2" cy="1726.4" rx="13.0" ry="11.3" fill="url(#cg2)" opacity="0.77"/>
<ellipse cx="413.1" cy="1724.1" rx="8.7" ry="8.7" fill="url(#cg2)" opacity="0.63"/>
<ellipse cx="428.6" cy="1699.2" rx="4.3" ry="4.3" fill="url(#cg2)" opacity="0.36"/>
<ellipse cx="436.4" cy="1738.0" rx="4.3" ry="8.7" fill="url(#cg2)" opacity="0.45"/>
<ellipse cx="239.2" cy="1741.2" rx="5.2" ry="5.2" fill="url(#cg2)" opacity="0.18"/>
<ellipse cx="265.6" cy="1745.8" rx="10.4" ry="7.8" fill="url(#cg2)" opacity="0.27"/>
<ellipse cx="352.5" cy="1752.0" rx="10.4" ry="7.0" fill="url(#cg2)" opacity="0.27"/>
<ellipse cx="405.3" cy="1752.0" rx="11.3" ry="5.2" fill="url(#cg2)" opacity="0.32"/>
<ellipse cx="389.8" cy="1764.4" rx="12.2" ry="9.6" fill="url(#cg2)" opacity="0.68"/>
<ellipse cx="288.9" cy="1780.0" rx="13.0" ry="13.0" fill="url(#cg2)" opacity="0.72"/>
<ellipse cx="333.9" cy="1780.0" rx="13.9" ry="12.2" fill="url(#cg2)" opacity="0.63"/>
<ellipse cx="366.5" cy="1783.1" rx="10.4" ry="9.6" fill="url(#cg2)" opacity="0.45"/>
<ellipse cx="234.5" cy="1800.2" rx="19.1" ry="13.0" fill="url(#cg2)" opacity="0.81"/>
<ellipse cx="274.9" cy="1814.1" rx="15.6" ry="10.4" fill="url(#cg2)" opacity="0.77"/>
<ellipse cx="340.1" cy="1806.4" rx="13.9" ry="8.7" fill="url(#cg2)" opacity="0.23"/>
<ellipse cx="399.1" cy="1804.8" rx="8.7" ry="8.7" fill="url(#cg2)" opacity="0.36"/>
<ellipse cx="422.4" cy="1800.2" rx="7.8" ry="6.1" fill="url(#cg2)" opacity="0.27"/>
<ellipse cx="430.2" cy="1817.2" rx="8.7" ry="8.7" fill="url(#cg2)" opacity="0.41"/>
<ellipse cx="310.6" cy="1831.2" rx="14.8" ry="11.3" fill="url(#cg2)" opacity="0.77"/>
<ellipse cx="355.6" cy="1834.3" rx="13.9" ry="12.2" fill="url(#cg2)" opacity="0.41"/>
<ellipse cx="391.3" cy="1837.4" rx="13.0" ry="11.3" fill="url(#cg2)" opacity="0.68"/>
<ellipse cx="433.3" cy="1835.9" rx="7.0" ry="12.2" fill="url(#cg2)" opacity="0.45"/>
<ellipse cx="351.0" cy="1851.4" rx="9.6" ry="7.0" fill="url(#cg2)" opacity="0.27"/>
<ellipse cx="220.6" cy="1831.2" rx="2.6" ry="7.8" fill="url(#cg2)" opacity="0.45"/>
<ellipse cx="257.8" cy="1854.5" rx="16.5" ry="12.2" fill="url(#cg2)" opacity="0.77"/>
<ellipse cx="310.6" cy="1866.9" rx="13.0" ry="13.0" fill="url(#cg2)" opacity="0.68"/>
<ellipse cx="391.3" cy="1859.2" rx="10.4" ry="10.4" fill="url(#cg2)" opacity="0.68"/>
<ellipse cx="423.9" cy="1863.8" rx="12.2" ry="9.6" fill="url(#cg2)" opacity="0.68"/>
<ellipse cx="250.1" cy="1880.9" rx="9.6" ry="7.0" fill="url(#cg2)" opacity="0.54"/>
<ellipse cx="298.2" cy="1884.0" rx="9.6" ry="4.3" fill="url(#cg2)" opacity="0.23"/>
<ellipse cx="434.8" cy="1890.2" rx="7.0" ry="3.5" fill="url(#cg2)" opacity="0.63"/>
<ellipse cx="471.6" cy="1654.2" rx="7.8" ry="7.0" fill="url(#cg2)" opacity="0.32"/>
<ellipse cx="496.4" cy="1665.1" rx="11.3" ry="11.3" fill="url(#cg2)" opacity="0.54"/>
<ellipse cx="566.3" cy="1679.1" rx="12.2" ry="13.0" fill="url(#cg2)" opacity="0.41"/>
<ellipse cx="609.8" cy="1671.3" rx="10.4" ry="10.4" fill="url(#cg2)" opacity="0.50"/>
<ellipse cx="636.2" cy="1658.9" rx="8.7" ry="9.6" fill="url(#cg2)" opacity="0.32"/>
<ellipse cx="494.9" cy="1694.6" rx="13.9" ry="11.3" fill="url(#cg2)" opacity="0.41"/>
<ellipse cx="522.8" cy="1708.6" rx="13.0" ry="13.9" fill="url(#cg2)" opacity="0.72"/>
<ellipse cx="606.7" cy="1693.8" rx="12.2" ry="9.6" fill="url(#cg2)" opacity="0.72"/>
<ellipse cx="612.9" cy="1730.3" rx="10.4" ry="10.4" fill="url(#cg2)" opacity="0.59"/>
<ellipse cx="643.9" cy="1727.2" rx="3.5" ry="7.8" fill="url(#cg2)" opacity="0.45"/>
<ellipse cx="443.7" cy="1738.0" rx="6.1" ry="7.8" fill="url(#cg2)" opacity="0.54"/>
<ellipse cx="470.1" cy="1742.7" rx="13.0" ry="10.4" fill="url(#cg2)" opacity="0.41"/>
<ellipse cx="527.5" cy="1744.3" rx="8.7" ry="10.4" fill="url(#cg2)" opacity="0.41"/>
<ellipse cx="490.2" cy="1767.5" rx="8.7" ry="8.7" fill="url(#cg2)" opacity="0.63"/>
<ellipse cx="510.4" cy="1770.7" rx="12.2" ry="7.8" fill="url(#cg2)" opacity="0.41"/>
<ellipse cx="588.0" cy="1775.3" rx="13.0" ry="13.0" fill="url(#cg2)" opacity="0.50"/>
<ellipse cx="639.3" cy="1756.7" rx="5.2" ry="5.2" fill="url(#cg2)" opacity="0.27"/>
<ellipse cx="625.3" cy="1801.7" rx="8.7" ry="10.4" fill="url(#cg2)" opacity="0.50"/>
<ellipse cx="498.0" cy="1817.2" rx="12.2" ry="9.6" fill="url(#cg2)" opacity="0.54"/>
<ellipse cx="550.8" cy="1820.3" rx="11.3" ry="11.3" fill="url(#cg2)" opacity="0.59"/>
<ellipse cx="448.3" cy="1823.4" rx="13.9" ry="10.4" fill="url(#cg2)" opacity="0.50"/>
<ellipse cx="443.7" cy="1839.0" rx="5.2" ry="8.7" fill="url(#cg2)" opacity="0.36"/>
<ellipse cx="625.3" cy="1829.7" rx="13.0" ry="14.8" fill="url(#cg2)" opacity="0.63"/>
<ellipse cx="640.8" cy="1815.7" rx="5.2" ry="7.0" fill="url(#cg2)" opacity="0.41"/>
<ellipse cx="592.7" cy="1814.1" rx="5.2" ry="4.3" fill="url(#cg2)" opacity="0.27"/>
<ellipse cx="609.8" cy="1851.4" rx="8.7" ry="10.4" fill="url(#cg2)" opacity="0.32"/>
<ellipse cx="501.1" cy="1857.6" rx="13.0" ry="7.0" fill="url(#cg2)" opacity="0.32"/>
<ellipse cx="563.2" cy="1868.5" rx="9.6" ry="8.7" fill="url(#cg2)" opacity="0.45"/>
<ellipse cx="589.6" cy="1879.3" rx="12.2" ry="11.3" fill="url(#cg2)" opacity="0.54"/>
<ellipse cx="623.8" cy="1885.5" rx="11.3" ry="7.0" fill="url(#cg2)" opacity="0.50"/>
<ellipse cx="532.2" cy="1877.8" rx="7.0" ry="6.1" fill="url(#cg2)" opacity="0.27"/>
</g></g>
<clipPath id="clipf"><rect x="765" y="1404" width="648" height="488"/></clipPath>
<g clip-path="url(#clipf)"><g filter="url(#soft)">
<ellipse cx="838.0" cy="1405.6" rx="8.7" ry="2.6" fill="url(#cg2)" opacity="0.48"/>
<ellipse cx="864.4" cy="1414.9" rx="9.6" ry="10.4" fill="url(#cg2)" opacity="0.48"/>
<ellipse cx="824.0" cy="1416.4" rx="6.1" ry="6.1" fill="url(#cg2)" opacity="0.36"/>
<ellipse cx="799.2" cy="1430.4" rx="12.2" ry="9.6" fill="url(#cg2)" opacity="0.28"/>
<ellipse cx="810.0" cy="1456.8" rx="12.2" ry="7.0" fill="url(#cg2)" opacity="0.28"/>
<ellipse cx="861.3" cy="1442.8" rx="7.0" ry="5.2" fill="url(#cg2)" opacity="0.24"/>
<ellipse cx="845.7" cy="1459.9" rx="9.6" ry="8.7" fill="url(#cg2)" opacity="0.32"/>
<ellipse cx="876.8" cy="1467.7" rx="11.3" ry="16.5" fill="url(#cg2)" opacity="0.60"/>
<ellipse cx="864.4" cy="1487.8" rx="13.9" ry="15.6" fill="url(#cg2)" opacity="0.60"/>
<ellipse cx="780.5" cy="1501.8" rx="5.2" ry="7.8" fill="url(#cg2)" opacity="0.52"/>
<ellipse cx="811.6" cy="1503.4" rx="7.0" ry="7.0" fill="url(#cg2)" opacity="0.20"/>
<ellipse cx="819.3" cy="1522.0" rx="11.3" ry="12.2" fill="url(#cg2)" opacity="0.40"/>
<ellipse cx="926.5" cy="1484.7" rx="7.0" ry="13.0" fill="url(#cg2)" opacity="0.36"/>
<ellipse cx="957.5" cy="1475.4" rx="8.7" ry="12.2" fill="url(#cg2)" opacity="0.44"/>
<ellipse cx="945.1" cy="1500.3" rx="12.2" ry="17.4" fill="url(#cg2)" opacity="0.52"/>
<ellipse cx="982.4" cy="1494.0" rx="3.5" ry="7.0" fill="url(#cg2)" opacity="0.28"/>
<ellipse cx="867.5" cy="1532.9" rx="7.8" ry="7.8" fill="url(#cg2)" opacity="0.52"/>
<ellipse cx="901.6" cy="1532.9" rx="8.7" ry="12.2" fill="url(#cg2)" opacity="0.48"/>
<ellipse cx="876.8" cy="1553.0" rx="12.2" ry="11.3" fill="url(#cg2)" opacity="0.36"/>
<ellipse cx="901.6" cy="1556.2" rx="9.6" ry="10.4" fill="url(#cg2)" opacity="0.52"/>
<ellipse cx="851.9" cy="1559.3" rx="8.7" ry="7.0" fill="url(#cg2)" opacity="0.28"/>
<ellipse cx="952.9" cy="1559.3" rx="13.0" ry="13.0" fill="url(#cg2)" opacity="0.56"/>
<ellipse cx="977.7" cy="1551.5" rx="7.0" ry="12.2" fill="url(#cg2)" opacity="0.56"/>
<ellipse cx="951.3" cy="1579.4" rx="6.1" ry="5.2" fill="url(#cg2)" opacity="0.28"/>
<ellipse cx="831.8" cy="1588.8" rx="14.8" ry="11.3" fill="url(#cg2)" opacity="0.48"/>
<ellipse cx="789.8" cy="1622.9" rx="11.3" ry="14.8" fill="url(#cg2)" opacity="0.60"/>
<ellipse cx="838.0" cy="1622.9" rx="12.2" ry="13.0" fill="url(#cg2)" opacity="0.36"/>
<ellipse cx="893.9" cy="1624.5" rx="8.7" ry="11.3" fill="url(#cg2)" opacity="0.40"/>
<ellipse cx="914.0" cy="1618.3" rx="7.8" ry="10.4" fill="url(#cg2)" opacity="0.56"/>
<ellipse cx="907.8" cy="1636.9" rx="10.4" ry="11.3" fill="url(#cg2)" opacity="0.60"/>
<ellipse cx="934.2" cy="1608.9" rx="9.6" ry="12.2" fill="url(#cg2)" opacity="0.48"/>
<ellipse cx="948.2" cy="1613.6" rx="6.1" ry="6.1" fill="url(#cg2)" opacity="0.32"/>
<ellipse cx="966.8" cy="1618.3" rx="8.7" ry="7.0" fill="url(#cg2)" opacity="0.32"/>
<ellipse cx="932.7" cy="1633.8" rx="7.0" ry="7.0" fill="url(#cg2)" opacity="0.24"/>
<ellipse cx="1031.6" cy="1407.1" rx="17.4" ry="3.5" fill="url(#cg2)" opacity="0.40"/>
<ellipse cx="1040.9" cy="1419.5" rx="6.1" ry="13.0" fill="url(#cg2)" opacity="0.36"/>
<ellipse cx="1126.3" cy="1419.5" rx="9.6" ry="12.2" fill="url(#cg2)" opacity="0.36"/>
<ellipse cx="1188.4" cy="1427.3" rx="7.8" ry="13.9" fill="url(#cg2)" opacity="0.40"/>
<ellipse cx="1158.9" cy="1430.4" rx="5.2" ry="5.2" fill="url(#cg2)" opacity="0.20"/>
<ellipse cx="1103.0" cy="1435.1" rx="8.7" ry="5.2" fill="url(#cg2)" opacity="0.16"/>
<ellipse cx="1051.8" cy="1447.5" rx="7.8" ry="13.9" fill="url(#cg2)" opacity="0.36"/>
<ellipse cx="1157.3" cy="1450.6" rx="10.4" ry="10.4" fill="url(#cg2)" opacity="0.32"/>
<ellipse cx="1174.4" cy="1456.8" rx="7.0" ry="7.8" fill="url(#cg2)" opacity="0.28"/>
<ellipse cx="1098.3" cy="1467.7" rx="6.1" ry="7.0" fill="url(#cg2)" opacity="0.24"/>
<ellipse cx="997.4" cy="1486.3" rx="13.9" ry="12.2" fill="url(#cg2)" opacity="0.52"/>
<ellipse cx="1014.5" cy="1483.2" rx="6.1" ry="8.7" fill="url(#cg2)" opacity="0.32"/>
<ellipse cx="1044.0" cy="1483.2" rx="9.6" ry="13.9" fill="url(#cg2)" opacity="0.44"/>
<ellipse cx="1068.8" cy="1477.0" rx="9.6" ry="11.3" fill="url(#cg2)" opacity="0.28"/>
<ellipse cx="1110.8" cy="1483.2" rx="7.8" ry="10.4" fill="url(#cg2)" opacity="0.28"/>
<ellipse cx="1126.3" cy="1486.3" rx="10.4" ry="13.0" fill="url(#cg2)" opacity="0.44"/>
<ellipse cx="1036.2" cy="1522.0" rx="8.7" ry="16.5" fill="url(#cg2)" opacity="0.48"/>
<ellipse cx="1016.1" cy="1523.5" rx="10.4" ry="10.4" fill="url(#cg2)" opacity="0.28"/>
<ellipse cx="1099.9" cy="1522.0" rx="7.8" ry="10.4" fill="url(#cg2)" opacity="0.44"/>
<ellipse cx="1172.9" cy="1522.0" rx="7.8" ry="11.3" fill="url(#cg2)" opacity="0.24"/>
<ellipse cx="1141.8" cy="1540.6" rx="8.7" ry="17.4" fill="url(#cg2)" opacity="0.44"/>
<ellipse cx="1162.0" cy="1551.5" rx="6.1" ry="8.7" fill="url(#cg2)" opacity="0.36"/>
<ellipse cx="1182.2" cy="1554.6" rx="7.8" ry="10.4" fill="url(#cg2)" opacity="0.28"/>
<ellipse cx="1056.4" cy="1563.9" rx="10.4" ry="12.2" fill="url(#cg2)" opacity="0.56"/>
<ellipse cx="1075.0" cy="1546.8" rx="7.0" ry="8.7" fill="url(#cg2)" opacity="0.24"/>
<ellipse cx="1101.4" cy="1565.5" rx="9.6" ry="14.8" fill="url(#cg2)" opacity="0.48"/>
<ellipse cx="1129.4" cy="1570.1" rx="8.7" ry="12.2" fill="url(#cg2)" opacity="0.40"/>
<ellipse cx="1101.4" cy="1593.4" rx="12.2" ry="8.7" fill="url(#cg2)" opacity="0.48"/>
<ellipse cx="1040.9" cy="1595.0" rx="11.3" ry="9.6" fill="url(#cg2)" opacity="0.40"/>
<ellipse cx="1062.6" cy="1607.4" rx="13.0" ry="12.2" fill="url(#cg2)" opacity="0.36"/>
<ellipse cx="1132.5" cy="1601.2" rx="7.0" ry="5.2" fill="url(#cg2)" opacity="0.24"/>
<ellipse cx="997.4" cy="1585.7" rx="7.8" ry="7.0" fill="url(#cg2)" opacity="0.20"/>
<ellipse cx="1171.3" cy="1629.1" rx="17.4" ry="12.2" fill="url(#cg2)" opacity="0.40"/>
<ellipse cx="1016.1" cy="1636.9" rx="8.7" ry="11.3" fill="url(#cg2)" opacity="0.48"/>
<ellipse cx="1135.6" cy="1616.7" rx="7.8" ry="7.0" fill="url(#cg2)" opacity="0.20"/>
<ellipse cx="1203.9" cy="1599.6" rx="2.6" ry="7.0" fill="url(#cg2)" opacity="0.32"/>
<ellipse cx="1288.6" cy="1441.3" rx="7.8" ry="11.3" fill="url(#cg2)" opacity="0.48"/>
<ellipse cx="1217.2" cy="1455.2" rx="7.0" ry="7.8" fill="url(#cg2)" opacity="0.20"/>
<ellipse cx="1210.2" cy="1473.9" rx="8.7" ry="13.0" fill="url(#cg2)" opacity="0.36"/>
<ellipse cx="1232.7" cy="1490.9" rx="7.0" ry="14.8" fill="url(#cg2)" opacity="0.20"/>
<ellipse cx="1207.9" cy="1495.6" rx="4.3" ry="4.3" fill="url(#cg2)" opacity="0.24"/>
<ellipse cx="1273.1" cy="1486.3" rx="5.2" ry="14.8" fill="url(#cg2)" opacity="0.28"/>
<ellipse cx="1318.1" cy="1472.3" rx="10.4" ry="9.6" fill="url(#cg2)" opacity="0.48"/>
<ellipse cx="1353.8" cy="1484.7" rx="6.1" ry="8.7" fill="url(#cg2)" opacity="0.44"/>
<ellipse cx="1372.4" cy="1445.9" rx="7.0" ry="8.7" fill="url(#cg2)" opacity="0.28"/>
<ellipse cx="1386.4" cy="1466.1" rx="7.0" ry="11.3" fill="url(#cg2)" opacity="0.28"/>
<ellipse cx="1401.9" cy="1480.1" rx="7.0" ry="13.0" fill="url(#cg2)" opacity="0.24"/>
<ellipse cx="1353.8" cy="1427.3" rx="7.0" ry="8.7" fill="url(#cg2)" opacity="0.16"/>
<ellipse cx="1339.8" cy="1455.2" rx="4.3" ry="10.4" fill="url(#cg2)" opacity="0.16"/>
<ellipse cx="1302.6" cy="1504.9" rx="7.0" ry="10.4" fill="url(#cg2)" opacity="0.40"/>
<ellipse cx="1338.3" cy="1503.4" rx="7.0" ry="12.2" fill="url(#cg2)" opacity="0.28"/>
<ellipse cx="1380.2" cy="1520.4" rx="9.6" ry="13.0" fill="url(#cg2)" opacity="0.32"/>
<ellipse cx="1406.6" cy="1545.3" rx="5.2" ry="8.7" fill="url(#cg2)" opacity="0.28"/>
<ellipse cx="1400.4" cy="1562.4" rx="5.2" ry="10.4" fill="url(#cg2)" opacity="0.24"/>
<ellipse cx="1296.4" cy="1537.5" rx="6.1" ry="8.7" fill="url(#cg2)" opacity="0.16"/>
<ellipse cx="1335.2" cy="1546.8" rx="6.1" ry="8.7" fill="url(#cg2)" opacity="0.40"/>
<ellipse cx="1256.0" cy="1565.5" rx="8.7" ry="13.9" fill="url(#cg2)" opacity="0.16"/>
<ellipse cx="1209.4" cy="1601.2" rx="9.6" ry="12.2" fill="url(#cg2)" opacity="0.48"/>
<ellipse cx="1319.7" cy="1622.9" rx="8.7" ry="13.9" fill="url(#cg2)" opacity="0.36"/>
<ellipse cx="1270.0" cy="1630.7" rx="13.0" ry="8.7" fill="url(#cg2)" opacity="0.24"/>
<ellipse cx="1349.2" cy="1636.9" rx="6.1" ry="11.3" fill="url(#cg2)" opacity="0.32"/>
<ellipse cx="1235.8" cy="1641.5" rx="5.2" ry="5.2" fill="url(#cg2)" opacity="0.16"/>
<ellipse cx="1398.8" cy="1414.9" rx="5.2" ry="8.7" fill="url(#cg2)" opacity="0.16"/>
<ellipse cx="775.9" cy="1671.3" rx="13.0" ry="9.6" fill="url(#cg2)" opacity="0.60"/>
<ellipse cx="825.6" cy="1665.1" rx="14.8" ry="9.6" fill="url(#cg2)" opacity="0.60"/>
<ellipse cx="870.6" cy="1669.7" rx="15.6" ry="17.4" fill="url(#cg2)" opacity="0.52"/>
<ellipse cx="844.2" cy="1686.8" rx="7.8" ry="11.3" fill="url(#cg2)" opacity="0.64"/>
<ellipse cx="980.8" cy="1652.7" rx="7.0" ry="7.8" fill="url(#cg2)" opacity="0.56"/>
<ellipse cx="957.5" cy="1685.3" rx="8.7" ry="10.4" fill="url(#cg2)" opacity="0.60"/>
<ellipse cx="976.2" cy="1666.6" rx="7.0" ry="6.1" fill="url(#cg2)" opacity="0.28"/>
<ellipse cx="771.2" cy="1722.5" rx="7.8" ry="12.2" fill="url(#cg2)" opacity="0.64"/>
<ellipse cx="785.2" cy="1738.0" rx="10.4" ry="7.8" fill="url(#cg2)" opacity="0.60"/>
<ellipse cx="848.8" cy="1721.0" rx="7.8" ry="7.8" fill="url(#cg2)" opacity="0.28"/>
<ellipse cx="858.2" cy="1747.4" rx="10.4" ry="8.7" fill="url(#cg2)" opacity="0.32"/>
<ellipse cx="879.9" cy="1750.5" rx="5.2" ry="5.2" fill="url(#cg2)" opacity="0.20"/>
<ellipse cx="827.1" cy="1762.9" rx="11.3" ry="7.8" fill="url(#cg2)" opacity="0.28"/>
<ellipse cx="910.9" cy="1734.9" rx="11.3" ry="14.8" fill="url(#cg2)" opacity="0.64"/>
<ellipse cx="907.8" cy="1758.2" rx="9.6" ry="9.6" fill="url(#cg2)" opacity="0.48"/>
<ellipse cx="937.3" cy="1750.5" rx="13.0" ry="13.0" fill="url(#cg2)" opacity="0.64"/>
<ellipse cx="976.2" cy="1719.4" rx="10.4" ry="12.2" fill="url(#cg2)" opacity="0.64"/>
<ellipse cx="945.1" cy="1780.0" rx="12.2" ry="12.2" fill="url(#cg2)" opacity="0.64"/>
<ellipse cx="842.6" cy="1781.5" rx="7.0" ry="7.0" fill="url(#cg2)" opacity="0.28"/>
<ellipse cx="845.7" cy="1800.2" rx="7.8" ry="8.7" fill="url(#cg2)" opacity="0.60"/>
<ellipse cx="876.8" cy="1806.4" rx="8.7" ry="12.2" fill="url(#cg2)" opacity="0.60"/>
<ellipse cx="822.4" cy="1835.9" rx="14.8" ry="12.2" fill="url(#cg2)" opacity="0.68"/>
<ellipse cx="904.7" cy="1831.2" rx="7.8" ry="8.7" fill="url(#cg2)" opacity="0.28"/>
<ellipse cx="928.0" cy="1837.4" rx="11.3" ry="10.4" fill="url(#cg2)" opacity="0.52"/>
<ellipse cx="954.4" cy="1834.3" rx="8.7" ry="13.0" fill="url(#cg2)" opacity="0.60"/>
<ellipse cx="813.1" cy="1863.8" rx="13.9" ry="13.0" fill="url(#cg2)" opacity="0.60"/>
<ellipse cx="834.9" cy="1870.0" rx="4.3" ry="5.2" fill="url(#cg2)" opacity="0.40"/>
<ellipse cx="876.8" cy="1866.9" rx="9.6" ry="9.6" fill="url(#cg2)" opacity="0.60"/>
<ellipse cx="895.4" cy="1857.6" rx="6.1" ry="7.8" fill="url(#cg2)" opacity="0.56"/>
<ellipse cx="946.7" cy="1854.5" rx="7.0" ry="7.0" fill="url(#cg2)" opacity="0.24"/>
<ellipse cx="938.9" cy="1873.1" rx="13.0" ry="10.4" fill="url(#cg2)" opacity="0.64"/>
<ellipse cx="973.0" cy="1876.2" rx="10.4" ry="10.4" fill="url(#cg2)" opacity="0.60"/>
<ellipse cx="850.4" cy="1885.5" rx="8.7" ry="5.2" fill="url(#cg2)" opacity="0.32"/>
<ellipse cx="1051.8" cy="1655.8" rx="8.7" ry="9.6" fill="url(#cg2)" opacity="0.60"/>
<ellipse cx="1103.0" cy="1654.2" rx="5.2" ry="7.0" fill="url(#cg2)" opacity="0.24"/>
<ellipse cx="1059.5" cy="1680.6" rx="8.7" ry="11.3" fill="url(#cg2)" opacity="0.44"/>
<ellipse cx="1103.0" cy="1685.3" rx="15.6" ry="9.6" fill="url(#cg2)" opacity="0.36"/>
<ellipse cx="1121.6" cy="1669.7" rx="3.5" ry="3.5" fill="url(#cg2)" opacity="0.24"/>
<ellipse cx="994.3" cy="1702.3" rx="7.8" ry="10.4" fill="url(#cg2)" opacity="0.40"/>
<ellipse cx="986.6" cy="1717.9" rx="3.5" ry="8.7" fill="url(#cg2)" opacity="0.40"/>
<ellipse cx="1042.4" cy="1721.0" rx="13.0" ry="13.0" fill="url(#cg2)" opacity="0.52"/>
<ellipse cx="1084.4" cy="1703.9" rx="9.6" ry="9.6" fill="url(#cg2)" opacity="0.40"/>
<ellipse cx="1095.2" cy="1713.2" rx="8.7" ry="13.0" fill="url(#cg2)" opacity="0.44"/>
<ellipse cx="1090.6" cy="1736.5" rx="7.8" ry="5.2" fill="url(#cg2)" opacity="0.28"/>
<ellipse cx="1130.9" cy="1741.2" rx="5.2" ry="5.2" fill="url(#cg2)" opacity="0.16"/>
<ellipse cx="1036.2" cy="1748.9" rx="4.3" ry="4.3" fill="url(#cg2)" opacity="0.16"/>
<ellipse cx="1109.2" cy="1772.2" rx="11.3" ry="19.1" fill="url(#cg2)" opacity="0.56"/>
<ellipse cx="1134.0" cy="1756.7" rx="5.2" ry="6.1" fill="url(#cg2)" opacity="0.28"/>
<ellipse cx="1140.3" cy="1772.2" rx="10.4" ry="11.3" fill="url(#cg2)" opacity="0.36"/>
<ellipse cx="1200.8" cy="1759.8" rx="7.0" ry="13.9" fill="url(#cg2)" opacity="0.48"/>
<ellipse cx="1023.8" cy="1806.4" rx="9.6" ry="10.4" fill="url(#cg2)" opacity="0.36"/>
<ellipse cx="1067.3" cy="1818.8" rx="9.6" ry="12.2" fill="url(#cg2)" opacity="0.56"/>
<ellipse cx="1017.6" cy="1828.1" rx="8.7" ry="10.4" fill="url(#cg2)" opacity="0.60"/>
<ellipse cx="1028.5" cy="1845.2" rx="7.0" ry="7.0" fill="url(#cg2)" opacity="0.28"/>
<ellipse cx="991.2" cy="1849.8" rx="7.0" ry="10.4" fill="url(#cg2)" opacity="0.24"/>
<ellipse cx="1124.7" cy="1818.8" rx="8.7" ry="12.2" fill="url(#cg2)" opacity="0.44"/>
<ellipse cx="1117.0" cy="1842.1" rx="5.2" ry="8.7" fill="url(#cg2)" opacity="0.28"/>
<ellipse cx="1180.6" cy="1797.0" rx="9.6" ry="11.3" fill="url(#cg2)" opacity="0.48"/>
<ellipse cx="1174.4" cy="1818.8" rx="9.6" ry="10.4" fill="url(#cg2)" opacity="0.60"/>
<ellipse cx="1193.0" cy="1825.0" rx="5.2" ry="7.0" fill="url(#cg2)" opacity="0.32"/>
<ellipse cx="1124.7" cy="1865.4" rx="10.4" ry="12.2" fill="url(#cg2)" opacity="0.56"/>
<ellipse cx="1160.4" cy="1856.0" rx="9.6" ry="13.0" fill="url(#cg2)" opacity="0.60"/>
<ellipse cx="1180.6" cy="1849.8" rx="9.6" ry="10.4" fill="url(#cg2)" opacity="0.32"/>
<ellipse cx="1200.8" cy="1854.5" rx="6.1" ry="7.0" fill="url(#cg2)" opacity="0.40"/>
<ellipse cx="1095.2" cy="1866.9" rx="7.0" ry="7.0" fill="url(#cg2)" opacity="0.24"/>
<ellipse cx="1092.1" cy="1877.8" rx="6.1" ry="5.2" fill="url(#cg2)" opacity="0.16"/>
<ellipse cx="1023.8" cy="1885.5" rx="8.7" ry="7.0" fill="url(#cg2)" opacity="0.36"/>
<ellipse cx="1199.3" cy="1882.4" rx="7.0" ry="7.0" fill="url(#cg2)" opacity="0.36"/>
<ellipse cx="1228.1" cy="1660.4" rx="5.2" ry="8.7" fill="url(#cg2)" opacity="0.20"/>
<ellipse cx="1221.8" cy="1685.3" rx="5.2" ry="7.0" fill="url(#cg2)" opacity="0.24"/>
<ellipse cx="1346.0" cy="1662.0" rx="5.2" ry="7.8" fill="url(#cg2)" opacity="0.32"/>
<ellipse cx="1361.6" cy="1677.5" rx="7.8" ry="12.2" fill="url(#cg2)" opacity="0.36"/>
<ellipse cx="1335.2" cy="1686.8" rx="8.7" ry="15.6" fill="url(#cg2)" opacity="0.36"/>
<ellipse cx="1380.2" cy="1694.6" rx="5.2" ry="7.0" fill="url(#cg2)" opacity="0.20"/>
<ellipse cx="1276.2" cy="1710.1" rx="7.0" ry="15.6" fill="url(#cg2)" opacity="0.32"/>
<ellipse cx="1214.1" cy="1724.1" rx="9.6" ry="13.9" fill="url(#cg2)" opacity="0.32"/>
<ellipse cx="1395.7" cy="1724.1" rx="7.8" ry="13.9" fill="url(#cg2)" opacity="0.44"/>
<ellipse cx="1372.4" cy="1725.6" rx="5.2" ry="5.2" fill="url(#cg2)" opacity="0.24"/>
<ellipse cx="1232.7" cy="1739.6" rx="7.0" ry="8.7" fill="url(#cg2)" opacity="0.20"/>
<ellipse cx="1304.1" cy="1738.0" rx="6.1" ry="5.2" fill="url(#cg2)" opacity="0.24"/>
<ellipse cx="1344.5" cy="1739.6" rx="10.4" ry="10.4" fill="url(#cg2)" opacity="0.40"/>
<ellipse cx="1360.0" cy="1747.4" rx="7.0" ry="7.0" fill="url(#cg2)" opacity="0.28"/>
<ellipse cx="1308.8" cy="1759.8" rx="7.8" ry="13.0" fill="url(#cg2)" opacity="0.44"/>
<ellipse cx="1204.8" cy="1758.2" rx="7.8" ry="13.9" fill="url(#cg2)" opacity="0.36"/>
<ellipse cx="1234.3" cy="1780.0" rx="8.7" ry="13.9" fill="url(#cg2)" opacity="0.28"/>
<ellipse cx="1265.3" cy="1784.6" rx="7.0" ry="10.4" fill="url(#cg2)" opacity="0.32"/>
<ellipse cx="1277.7" cy="1793.9" rx="9.6" ry="12.2" fill="url(#cg2)" opacity="0.36"/>
<ellipse cx="1304.1" cy="1784.6" rx="6.1" ry="7.0" fill="url(#cg2)" opacity="0.20"/>
<ellipse cx="1346.0" cy="1762.9" rx="8.7" ry="11.3" fill="url(#cg2)" opacity="0.36"/>
<ellipse cx="1370.9" cy="1772.2" rx="7.0" ry="17.4" fill="url(#cg2)" opacity="0.36"/>
<ellipse cx="1336.7" cy="1784.6" rx="7.0" ry="12.2" fill="url(#cg2)" opacity="0.36"/>
<ellipse cx="1355.4" cy="1784.6" rx="9.6" ry="7.8" fill="url(#cg2)" opacity="0.28"/>
<ellipse cx="1392.6" cy="1809.5" rx="9.6" ry="12.2" fill="url(#cg2)" opacity="0.32"/>
<ellipse cx="1324.3" cy="1814.1" rx="7.0" ry="10.4" fill="url(#cg2)" opacity="0.36"/>
<ellipse cx="1347.6" cy="1826.5" rx="13.9" ry="7.8" fill="url(#cg2)" opacity="0.32"/>
<ellipse cx="1221.8" cy="1825.0" rx="7.8" ry="13.9" fill="url(#cg2)" opacity="0.36"/>
<ellipse cx="1246.7" cy="1840.5" rx="7.8" ry="10.4" fill="url(#cg2)" opacity="0.24"/>
<ellipse cx="1380.2" cy="1846.7" rx="7.8" ry="9.6" fill="url(#cg2)" opacity="0.24"/>
<ellipse cx="1274.6" cy="1860.7" rx="7.0" ry="10.4" fill="url(#cg2)" opacity="0.36"/>
<ellipse cx="1296.4" cy="1871.6" rx="8.7" ry="12.2" fill="url(#cg2)" opacity="0.36"/>
<ellipse cx="1342.9" cy="1862.3" rx="7.0" ry="8.7" fill="url(#cg2)" opacity="0.28"/>
<ellipse cx="1260.7" cy="1884.0" rx="7.0" ry="7.8" fill="url(#cg2)" opacity="0.28"/>
<ellipse cx="1325.9" cy="1884.0" rx="6.1" ry="7.0" fill="url(#cg2)" opacity="0.28"/>
<ellipse cx="1212.5" cy="1877.8" rx="8.7" ry="8.7" fill="url(#cg2)" opacity="0.28"/>
<ellipse cx="1383.3" cy="1870.0" rx="7.8" ry="10.4" fill="url(#cg2)" opacity="0.20"/>
</g></g>
<g fill="#fdfdf5" font-size="32" font-family="Liberation Serif">
<text x="485" y="1300.3">100 μm</text>
<text x="1249" y="1300.3">100 μm</text>
<text x="485" y="1848.8">100 μm</text>
<text x="1249" y="1848.8">100 μm</text>
</g>
<g stroke="#f4f7f0" stroke-width="6.3" stroke-linecap="round">
<path d="M444,1315.3 H626.5"/>
<path d="M1215,1311.4 H1398"/>
<path d="M442,1866.5 H625"/>
<path d="M1209.5,1861.2 H1392.8"/>
</g>
</svg>
</body></html>
